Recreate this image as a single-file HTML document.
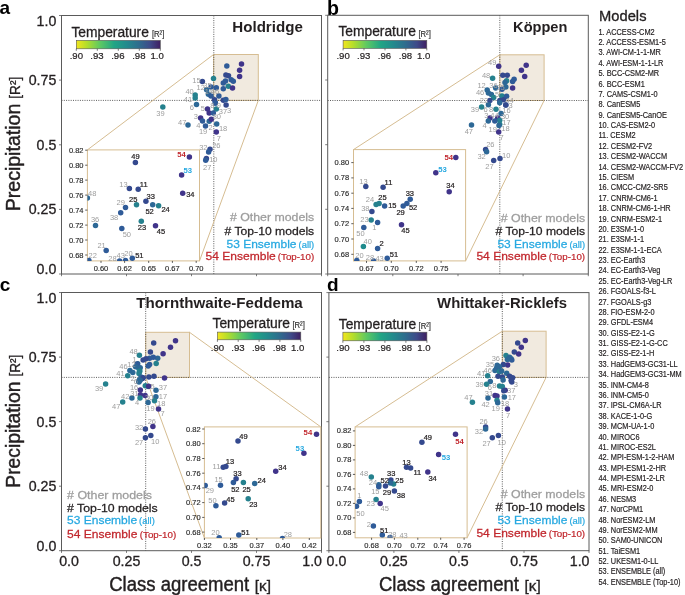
<!DOCTYPE html><html><head><meta charset="utf-8"><style>html,body{margin:0;padding:0;background:#fff;}svg{display:block;will-change:transform;} text{font-family:"Liberation Sans",sans-serif;}</style></head><body><svg width="685" height="595" viewBox="0 0 685 595" font-family="Liberation Sans, sans-serif"><rect width="685" height="595" fill="#fff"/><text x="-0.6" y="14.3" font-size="19" fill="#000" font-weight="bold">a</text>
<rect x="213.6" y="54.5" width="44.7" height="45.9" fill="#f1eadf" stroke="#d6bd92" stroke-width="1" />
<line x1="213.8" y1="15.5" x2="213.8" y2="274.0" stroke="#333" stroke-width="0.8" stroke-dasharray="1 1.3"/>
<line x1="61.5" y1="100.4" x2="321.5" y2="100.4" stroke="#333" stroke-width="0.8" stroke-dasharray="1 1.3"/>
<line x1="87.4" y1="149.9" x2="213.6" y2="54.5" stroke="#d6bd92" stroke-width="1" />
<line x1="199.5" y1="260.9" x2="258.3" y2="100.4" stroke="#d6bd92" stroke-width="1" />
<rect x="61.5" y="15.5" width="260.0" height="258.5" fill="none" stroke="#5a5a5a" stroke-width="1" />
<line x1="59.0" y1="274.0" x2="61.5" y2="274.0" stroke="#5a5a5a" stroke-width="0.8" />
<text x="56.3" y="274.0" font-size="14.2" fill="#231f20" text-anchor="end" stroke="#231f20" stroke-width="0.31">0.0</text>
<line x1="59.0" y1="209.4" x2="61.5" y2="209.4" stroke="#5a5a5a" stroke-width="0.8" />
<text x="56.3" y="214.4" font-size="14.2" fill="#231f20" text-anchor="end" stroke="#231f20" stroke-width="0.31">0.25</text>
<line x1="59.0" y1="144.8" x2="61.5" y2="144.8" stroke="#5a5a5a" stroke-width="0.8" />
<text x="56.3" y="149.8" font-size="14.2" fill="#231f20" text-anchor="end" stroke="#231f20" stroke-width="0.31">0.5</text>
<line x1="59.0" y1="80.1" x2="61.5" y2="80.1" stroke="#5a5a5a" stroke-width="0.8" />
<text x="56.3" y="85.1" font-size="14.2" fill="#231f20" text-anchor="end" stroke="#231f20" stroke-width="0.31">0.75</text>
<line x1="59.0" y1="15.5" x2="61.5" y2="15.5" stroke="#5a5a5a" stroke-width="0.8" />
<text x="56.3" y="25.8" font-size="14.2" fill="#231f20" text-anchor="end" stroke="#231f20" stroke-width="0.31">1.0</text>
<line x1="61.5" y1="274.0" x2="61.5" y2="276.2" stroke="#5a5a5a" stroke-width="0.8" />
<line x1="126.5" y1="274.0" x2="126.5" y2="276.2" stroke="#5a5a5a" stroke-width="0.8" />
<line x1="191.5" y1="274.0" x2="191.5" y2="276.2" stroke="#5a5a5a" stroke-width="0.8" />
<line x1="256.5" y1="274.0" x2="256.5" y2="276.2" stroke="#5a5a5a" stroke-width="0.8" />
<line x1="321.5" y1="274.0" x2="321.5" y2="276.2" stroke="#5a5a5a" stroke-width="0.8" />
<text x="232.3" y="31.8" font-size="15" fill="#231f20" font-weight="bold" textLength="70.5" lengthAdjust="spacingAndGlyphs">Holdridge</text>
<text x="71.4" y="36.9" font-size="13.8" fill="#231f20" stroke="#231f20" stroke-width="0.30">Temperature</text>
<text x="151.9" y="37.2" font-size="9.6" fill="#333" textLength="12.4" lengthAdjust="spacingAndGlyphs" stroke="#333" stroke-width="0.21">[R²]</text>
<defs><linearGradient id="vir76" x1="0" x2="1" y1="0" y2="0"><stop offset="0" stop-color="#f2e51d"/><stop offset="0.12" stop-color="#b5de2b"/><stop offset="0.28" stop-color="#5ec962"/><stop offset="0.45" stop-color="#21a585"/><stop offset="0.6" stop-color="#238a8d"/><stop offset="0.75" stop-color="#2f6b8e"/><stop offset="0.88" stop-color="#3e4a89"/><stop offset="1" stop-color="#3f1f62"/></linearGradient></defs>
<rect x="76.3" y="40.4" width="84.0" height="8.4" fill="url(#vir76)" stroke="#555" stroke-width="0.6" />
<line x1="76.3" y1="48.8" x2="76.3" y2="50.8" stroke="#444" stroke-width="0.7" />
<text x="76.3" y="58.6" font-size="9.6" fill="#231f20" text-anchor="middle" stroke="#231f20" stroke-width="0.21">.90</text>
<line x1="97.3" y1="48.8" x2="97.3" y2="50.8" stroke="#444" stroke-width="0.7" />
<text x="97.0" y="58.6" font-size="9.6" fill="#231f20" text-anchor="middle" stroke="#231f20" stroke-width="0.21">.93</text>
<line x1="118.3" y1="48.8" x2="118.3" y2="50.8" stroke="#444" stroke-width="0.7" />
<text x="117.8" y="58.6" font-size="9.6" fill="#231f20" text-anchor="middle" stroke="#231f20" stroke-width="0.21">.96</text>
<line x1="139.3" y1="48.8" x2="139.3" y2="50.8" stroke="#444" stroke-width="0.7" />
<text x="138.8" y="58.6" font-size="9.6" fill="#231f20" text-anchor="middle" stroke="#231f20" stroke-width="0.21">.98</text>
<line x1="160.3" y1="48.8" x2="160.3" y2="50.8" stroke="#444" stroke-width="0.7" />
<text x="157.2" y="58.6" font-size="9.6" fill="#231f20" text-anchor="middle" stroke="#231f20" stroke-width="0.21">1.0</text>
<text x="314.2" y="221.3" font-size="11.6" fill="#9d9d9d" text-anchor="end" textLength="84.3" lengthAdjust="spacingAndGlyphs" stroke="#9d9d9d" stroke-width="0.26"># Other models</text>
<text x="314.2" y="234.5" font-size="11.6" fill="#231f20" text-anchor="end" textLength="89.6" lengthAdjust="spacingAndGlyphs" stroke="#231f20" stroke-width="0.26"># Top-10 models</text>
<text x="314.2" y="247.9" font-size="9.2" fill="#27a9e1" text-anchor="end" textLength="15.7" lengthAdjust="spacingAndGlyphs" stroke="#27a9e1" stroke-width="0.20">(all)</text>
<text x="296.5" y="247.9" font-size="11.6" fill="#27a9e1" text-anchor="end" textLength="70.0" lengthAdjust="spacingAndGlyphs" stroke="#27a9e1" stroke-width="0.26">53 Ensemble</text>
<text x="314.2" y="260.1" font-size="9.2" fill="#c1272d" text-anchor="end" textLength="36.4" lengthAdjust="spacingAndGlyphs" stroke="#c1272d" stroke-width="0.20">(Top-10)</text>
<text x="275.8" y="260.1" font-size="11.6" fill="#c1272d" text-anchor="end" textLength="70.3" lengthAdjust="spacingAndGlyphs" stroke="#c1272d" stroke-width="0.26">54 Ensemble</text>
<g transform="translate(20.2,211.3) rotate(-90)"><text x="0" y="0" font-size="19.6" fill="#231f20" stroke="#231f20" stroke-width="0.43" textLength="107.6" lengthAdjust="spacingAndGlyphs">Precipitation</text><text x="112.6" y="0" font-size="14.5" fill="#231f20" stroke="#231f20" stroke-width="0.3" textLength="21.9" lengthAdjust="spacingAndGlyphs">[R²]</text></g>
<circle cx="226.8" cy="66.0" r="2.75" fill="#2f5b98"/>
<circle cx="241.5" cy="64.1" r="2.75" fill="#40348a"/>
<circle cx="239.6" cy="70.3" r="2.75" fill="#40348a"/>
<circle cx="239.6" cy="76.6" r="2.75" fill="#40348a"/>
<circle cx="225.9" cy="75.1" r="2.75" fill="#34498e"/>
<circle cx="228.5" cy="75.8" r="2.75" fill="#34498e"/>
<circle cx="223.3" cy="82.9" r="2.75" fill="#2f5b98"/>
<circle cx="225.5" cy="81.0" r="2.75" fill="#2f5b98"/>
<circle cx="231.2" cy="79.7" r="2.75" fill="#2f5b98"/>
<circle cx="233.3" cy="81.3" r="2.75" fill="#2f5b98"/>
<circle cx="228.3" cy="86.3" r="2.75" fill="#25818e"/>
<circle cx="232.5" cy="88.0" r="2.75" fill="#40348a"/>
<circle cx="223.3" cy="88.7" r="2.75" fill="#2f5b98"/>
<circle cx="213.5" cy="78.4" r="2.75" fill="#25818e"/>
<circle cx="202.4" cy="81.5" r="2.75" fill="#34498e"/>
<circle cx="211.0" cy="87.1" r="2.75" fill="#2f5b98"/>
<circle cx="216.3" cy="87.8" r="2.75" fill="#2f5b98"/>
<circle cx="206.6" cy="89.8" r="2.75" fill="#2d6896"/>
<circle cx="208.4" cy="94.2" r="2.75" fill="#2d6896"/>
<circle cx="211.0" cy="95.9" r="2.75" fill="#2f5b98"/>
<circle cx="218.9" cy="95.9" r="2.75" fill="#2f5b98"/>
<circle cx="195.2" cy="94.9" r="2.75" fill="#25818e"/>
<circle cx="195.2" cy="97.9" r="2.75" fill="#25818e"/>
<circle cx="196.5" cy="104.5" r="2.75" fill="#2d6896"/>
<circle cx="214.5" cy="99.8" r="2.75" fill="#34498e"/>
<circle cx="223.3" cy="100.3" r="2.75" fill="#34498e"/>
<circle cx="225.9" cy="99.4" r="2.75" fill="#2f5b98"/>
<circle cx="215.4" cy="102.9" r="2.75" fill="#2f5b98"/>
<circle cx="226.1" cy="105.0" r="2.75" fill="#34498e"/>
<circle cx="215.3" cy="103.0" r="2.75" fill="#2f5b98"/>
<circle cx="207.5" cy="109.1" r="2.75" fill="#40348a"/>
<circle cx="216.3" cy="109.1" r="2.75" fill="#25818e"/>
<circle cx="209.2" cy="113.1" r="2.75" fill="#40348a"/>
<circle cx="213.3" cy="113.1" r="2.75" fill="#2f5b98"/>
<circle cx="200.6" cy="117.9" r="2.75" fill="#40348a"/>
<circle cx="202.5" cy="121.0" r="2.75" fill="#2f5b98"/>
<circle cx="209.2" cy="121.2" r="2.75" fill="#2d6896"/>
<circle cx="211.3" cy="119.2" r="2.75" fill="#40348a"/>
<circle cx="216.7" cy="124.1" r="2.75" fill="#2d6896"/>
<circle cx="205.5" cy="125.9" r="2.75" fill="#2f5b98"/>
<circle cx="188.0" cy="124.9" r="2.75" fill="#2d6896"/>
<circle cx="216.3" cy="132.1" r="2.75" fill="#40348a"/>
<circle cx="162.8" cy="107.1" r="2.75" fill="#25818e"/>
<circle cx="210.0" cy="149.2" r="2.75" fill="#34498e"/>
<circle cx="208.6" cy="151.9" r="2.75" fill="#2f5b98"/>
<circle cx="206.4" cy="158.4" r="2.75" fill="#34498e"/>
<circle cx="205.7" cy="160.2" r="2.75" fill="#2f5b98"/>
<text x="196.4" y="82.5" font-size="7.5" fill="#9d9d9d" text-anchor="middle">15</text>
<text x="200.7" y="90.0" font-size="7.5" fill="#9d9d9d" text-anchor="middle">12</text>
<text x="207.5" y="88.0" font-size="7.5" fill="#9d9d9d" text-anchor="middle">35</text>
<text x="208.9" y="94.3" font-size="7.5" fill="#9d9d9d" text-anchor="middle">14</text>
<text x="215.0" y="94.3" font-size="7.5" fill="#9d9d9d" text-anchor="middle">46</text>
<text x="189.6" y="93.5" font-size="7.5" fill="#9d9d9d" text-anchor="middle">40</text>
<text x="187.9" y="102.3" font-size="7.5" fill="#9d9d9d" text-anchor="middle">41</text>
<text x="191.9" y="110.2" font-size="7.5" fill="#9d9d9d" text-anchor="middle">6</text>
<text x="202.9" y="111.1" font-size="7.5" fill="#9d9d9d" text-anchor="middle">5</text>
<text x="212.4" y="107.6" font-size="7.5" fill="#9d9d9d" text-anchor="middle">8</text>
<text x="218.9" y="107.8" font-size="7.5" fill="#9d9d9d" text-anchor="middle">9</text>
<text x="222.9" y="113.7" font-size="7.5" fill="#9d9d9d" text-anchor="middle">37</text>
<text x="229.0" y="112.9" font-size="7.5" fill="#9d9d9d" text-anchor="middle">3</text>
<text x="195.9" y="118.9" font-size="7.5" fill="#9d9d9d" text-anchor="middle">3</text>
<text x="216.8" y="118.9" font-size="7.5" fill="#9d9d9d" text-anchor="middle">30</text>
<text x="198.4" y="127.6" font-size="7.5" fill="#9d9d9d" text-anchor="middle">4</text>
<text x="210.5" y="129.5" font-size="7.5" fill="#9d9d9d" text-anchor="middle">2</text>
<text x="223.1" y="130.5" font-size="7.5" fill="#9d9d9d" text-anchor="middle">18</text>
<text x="182.2" y="125.3" font-size="7.5" fill="#9d9d9d" text-anchor="middle">47</text>
<text x="160.5" y="115.7" font-size="7.5" fill="#9d9d9d" text-anchor="middle">39</text>
<text x="203.1" y="133.5" font-size="7.5" fill="#9d9d9d" text-anchor="middle">19</text>
<text x="218.8" y="140.5" font-size="7.5" fill="#9d9d9d" text-anchor="middle">7</text>
<text x="203.3" y="149.7" font-size="7.5" fill="#9d9d9d" text-anchor="middle">32</text>
<text x="216.3" y="148.2" font-size="7.5" fill="#9d9d9d" text-anchor="middle">26</text>
<text x="213.3" y="161.9" font-size="7.5" fill="#9d9d9d" text-anchor="middle">10</text>
<text x="207.2" y="169.9" font-size="7.5" fill="#9d9d9d" text-anchor="middle">27</text>
<rect x="87.4" y="149.9" width="112.1" height="111.0" fill="#fff" stroke="#d6bd92" stroke-width="1" />
<line x1="85.2" y1="150.2" x2="87.4" y2="150.2" stroke="#333" stroke-width="0.8" />
<text x="83.5" y="152.7" font-size="7.2" fill="#2a2a2a" text-anchor="end" textLength="14.6" lengthAdjust="spacingAndGlyphs" stroke="#2a2a2a" stroke-width="0.15">0.82</text>
<line x1="85.2" y1="165.2" x2="87.4" y2="165.2" stroke="#333" stroke-width="0.8" />
<text x="83.5" y="167.7" font-size="7.2" fill="#2a2a2a" text-anchor="end" textLength="14.6" lengthAdjust="spacingAndGlyphs" stroke="#2a2a2a" stroke-width="0.15">0.80</text>
<line x1="85.2" y1="180.1" x2="87.4" y2="180.1" stroke="#333" stroke-width="0.8" />
<text x="83.5" y="182.6" font-size="7.2" fill="#2a2a2a" text-anchor="end" textLength="14.6" lengthAdjust="spacingAndGlyphs" stroke="#2a2a2a" stroke-width="0.15">0.78</text>
<line x1="85.2" y1="195.1" x2="87.4" y2="195.1" stroke="#333" stroke-width="0.8" />
<text x="83.5" y="197.6" font-size="7.2" fill="#2a2a2a" text-anchor="end" textLength="14.6" lengthAdjust="spacingAndGlyphs" stroke="#2a2a2a" stroke-width="0.15">0.76</text>
<line x1="85.2" y1="210.1" x2="87.4" y2="210.1" stroke="#333" stroke-width="0.8" />
<text x="83.5" y="212.6" font-size="7.2" fill="#2a2a2a" text-anchor="end" textLength="14.6" lengthAdjust="spacingAndGlyphs" stroke="#2a2a2a" stroke-width="0.15">0.74</text>
<line x1="85.2" y1="225.1" x2="87.4" y2="225.1" stroke="#333" stroke-width="0.8" />
<text x="83.5" y="227.6" font-size="7.2" fill="#2a2a2a" text-anchor="end" textLength="14.6" lengthAdjust="spacingAndGlyphs" stroke="#2a2a2a" stroke-width="0.15">0.72</text>
<line x1="85.2" y1="240.0" x2="87.4" y2="240.0" stroke="#333" stroke-width="0.8" />
<text x="83.5" y="242.5" font-size="7.2" fill="#2a2a2a" text-anchor="end" textLength="14.6" lengthAdjust="spacingAndGlyphs" stroke="#2a2a2a" stroke-width="0.15">0.70</text>
<line x1="85.2" y1="255.0" x2="87.4" y2="255.0" stroke="#333" stroke-width="0.8" />
<text x="83.5" y="257.5" font-size="7.2" fill="#2a2a2a" text-anchor="end" textLength="14.6" lengthAdjust="spacingAndGlyphs" stroke="#2a2a2a" stroke-width="0.15">0.68</text>
<line x1="101.0" y1="260.9" x2="101.0" y2="262.9" stroke="#333" stroke-width="0.8" />
<text x="101.0" y="270.6" font-size="7.2" fill="#2a2a2a" text-anchor="middle" textLength="14.6" lengthAdjust="spacingAndGlyphs" stroke="#2a2a2a" stroke-width="0.15">0.60</text>
<line x1="124.6" y1="260.9" x2="124.6" y2="262.9" stroke="#333" stroke-width="0.8" />
<text x="124.6" y="270.6" font-size="7.2" fill="#2a2a2a" text-anchor="middle" textLength="14.6" lengthAdjust="spacingAndGlyphs" stroke="#2a2a2a" stroke-width="0.15">0.62</text>
<line x1="148.7" y1="260.9" x2="148.7" y2="262.9" stroke="#333" stroke-width="0.8" />
<text x="148.7" y="270.6" font-size="7.2" fill="#2a2a2a" text-anchor="middle" textLength="14.6" lengthAdjust="spacingAndGlyphs" stroke="#2a2a2a" stroke-width="0.15">0.65</text>
<line x1="172.4" y1="260.9" x2="172.4" y2="262.9" stroke="#333" stroke-width="0.8" />
<text x="172.4" y="270.6" font-size="7.2" fill="#2a2a2a" text-anchor="middle" textLength="14.6" lengthAdjust="spacingAndGlyphs" stroke="#2a2a2a" stroke-width="0.15">0.67</text>
<line x1="196.2" y1="260.9" x2="196.2" y2="262.9" stroke="#333" stroke-width="0.8" />
<text x="196.2" y="270.6" font-size="7.2" fill="#2a2a2a" text-anchor="middle" textLength="14.6" lengthAdjust="spacingAndGlyphs" stroke="#2a2a2a" stroke-width="0.15">0.70</text>
<defs><clipPath id="clip1"><rect x="87.4" y="149.9" width="112.1" height="110.99999999999997"/></clipPath></defs><g clip-path="url(#clip1)">
<circle cx="135.4" cy="162.6" r="2.75" fill="#34498e"/>
<circle cx="189.4" cy="157.1" r="2.75" fill="#40348a"/>
<circle cx="181.6" cy="175.0" r="2.75" fill="#40348a"/>
<circle cx="182.7" cy="193.2" r="2.75" fill="#40348a"/>
<circle cx="129.4" cy="188.6" r="2.75" fill="#34498e"/>
<circle cx="138.2" cy="189.3" r="2.75" fill="#34498e"/>
<circle cx="87.4" cy="198.0" r="2.75" fill="#2d6896"/>
<circle cx="145.9" cy="201.3" r="2.75" fill="#34498e"/>
<circle cx="136.5" cy="204.8" r="2.75" fill="#25818e"/>
<circle cx="152.7" cy="204.8" r="2.75" fill="#2d6896"/>
<circle cx="158.6" cy="205.7" r="2.75" fill="#25818e"/>
<circle cx="125.5" cy="207.4" r="2.75" fill="#2f5b98"/>
<circle cx="120.7" cy="212.7" r="2.75" fill="#2f5b98"/>
<circle cx="95.5" cy="225.4" r="2.75" fill="#2d6896"/>
<circle cx="141.3" cy="221.2" r="2.75" fill="#25818e"/>
<circle cx="121.8" cy="228.5" r="2.75" fill="#2f5b98"/>
<circle cx="155.5" cy="225.8" r="2.75" fill="#40348a"/>
<circle cx="106.2" cy="250.6" r="2.75" fill="#2f5b98"/>
<circle cx="88.9" cy="260.4" r="2.75" fill="#2f5b98"/>
<circle cx="125.5" cy="260.4" r="2.75" fill="#2f5b98"/>
<circle cx="132.3" cy="258.2" r="2.75" fill="#2f5b98"/>
<circle cx="119.6" cy="260.9" r="2.75" fill="#2f5b98"/>
</g>
<text x="135.4" y="159.1" font-size="7.5" fill="#231f20" text-anchor="middle" stroke="#231f20" stroke-width="0.22">49</text>
<text x="181.6" y="156.9" font-size="7.7" fill="#c1272d" text-anchor="middle" font-weight="bold">54</text>
<text x="187.7" y="172.7" font-size="7.7" fill="#27a9e1" text-anchor="middle" font-weight="bold">53</text>
<text x="190.3" y="197.4" font-size="7.5" fill="#231f20" text-anchor="middle" stroke="#231f20" stroke-width="0.22">34</text>
<text x="123.5" y="186.5" font-size="7.5" fill="#9d9d9d" text-anchor="middle">13</text>
<text x="143.7" y="186.5" font-size="7.5" fill="#231f20" text-anchor="middle" stroke="#231f20" stroke-width="0.22">11</text>
<text x="92.2" y="196.3" font-size="7.5" fill="#9d9d9d" text-anchor="middle">48</text>
<text x="150.7" y="198.5" font-size="7.5" fill="#231f20" text-anchor="middle" stroke="#231f20" stroke-width="0.22">33</text>
<text x="133.2" y="202.3" font-size="7.5" fill="#231f20" text-anchor="middle" stroke="#231f20" stroke-width="0.22">25</text>
<text x="149.6" y="213.9" font-size="7.5" fill="#231f20" text-anchor="middle" stroke="#231f20" stroke-width="0.22">52</text>
<text x="165.6" y="212.3" font-size="7.5" fill="#231f20" text-anchor="middle" stroke="#231f20" stroke-width="0.22">24</text>
<text x="120.7" y="205.1" font-size="7.5" fill="#9d9d9d" text-anchor="middle">29</text>
<text x="114.1" y="219.8" font-size="7.5" fill="#9d9d9d" text-anchor="middle">38</text>
<text x="95.1" y="221.5" font-size="7.5" fill="#9d9d9d" text-anchor="middle">36</text>
<text x="141.9" y="230.3" font-size="7.5" fill="#231f20" text-anchor="middle" stroke="#231f20" stroke-width="0.22">23</text>
<text x="126.8" y="237.3" font-size="7.5" fill="#9d9d9d" text-anchor="middle">50</text>
<text x="161.0" y="234.2" font-size="7.5" fill="#231f20" text-anchor="middle" stroke="#231f20" stroke-width="0.22">45</text>
<text x="101.6" y="248.2" font-size="7.5" fill="#9d9d9d" text-anchor="middle">21</text>
<text x="92.7" y="258.3" font-size="7.5" fill="#9d9d9d" text-anchor="middle">22</text>
<text x="112.4" y="261.4" font-size="7.5" fill="#9d9d9d" text-anchor="middle">28</text>
<text x="120.7" y="258.3" font-size="7.5" fill="#9d9d9d" text-anchor="middle">43</text>
<text x="128.4" y="256.1" font-size="7.5" fill="#9d9d9d" text-anchor="middle">20</text>
<text x="139.3" y="258.3" font-size="7.5" fill="#231f20" text-anchor="middle" stroke="#231f20" stroke-width="0.22">51</text>
<text x="326.9" y="14.5" font-size="19.6" fill="#000" font-weight="bold">b</text>
<rect x="499.8" y="54.8" width="44.3" height="45.7" fill="#f1eadf" stroke="#d6bd92" stroke-width="1" />
<line x1="499.8" y1="15.3" x2="499.8" y2="274.0" stroke="#333" stroke-width="0.8" stroke-dasharray="1 1.3"/>
<line x1="327.7" y1="100.5" x2="588.3" y2="100.5" stroke="#333" stroke-width="0.8" stroke-dasharray="1 1.3"/>
<line x1="353.5" y1="149.6" x2="499.8" y2="54.8" stroke="#d6bd92" stroke-width="1" />
<line x1="465.6" y1="260.9" x2="544.1" y2="100.5" stroke="#d6bd92" stroke-width="1" />
<rect x="327.7" y="15.3" width="260.6" height="258.7" fill="none" stroke="#5a5a5a" stroke-width="1" />
<line x1="325.2" y1="274.0" x2="327.7" y2="274.0" stroke="#5a5a5a" stroke-width="0.8" />
<line x1="325.2" y1="209.3" x2="327.7" y2="209.3" stroke="#5a5a5a" stroke-width="0.8" />
<line x1="325.2" y1="144.7" x2="327.7" y2="144.7" stroke="#5a5a5a" stroke-width="0.8" />
<line x1="325.2" y1="80.0" x2="327.7" y2="80.0" stroke="#5a5a5a" stroke-width="0.8" />
<line x1="325.2" y1="15.3" x2="327.7" y2="15.3" stroke="#5a5a5a" stroke-width="0.8" />
<line x1="327.7" y1="274.0" x2="327.7" y2="276.2" stroke="#5a5a5a" stroke-width="0.8" />
<line x1="392.8" y1="274.0" x2="392.8" y2="276.2" stroke="#5a5a5a" stroke-width="0.8" />
<line x1="458.0" y1="274.0" x2="458.0" y2="276.2" stroke="#5a5a5a" stroke-width="0.8" />
<line x1="523.1" y1="274.0" x2="523.1" y2="276.2" stroke="#5a5a5a" stroke-width="0.8" />
<line x1="588.3" y1="274.0" x2="588.3" y2="276.2" stroke="#5a5a5a" stroke-width="0.8" />
<text x="513.1" y="32.4" font-size="15" fill="#231f20" font-weight="bold" textLength="54.3" lengthAdjust="spacingAndGlyphs">Köppen</text>
<text x="338.4" y="36.4" font-size="13.8" fill="#231f20" stroke="#231f20" stroke-width="0.30">Temperature</text>
<text x="418.4" y="36.7" font-size="9.6" fill="#333" textLength="12.4" lengthAdjust="spacingAndGlyphs" stroke="#333" stroke-width="0.21">[R²]</text>
<defs><linearGradient id="vir343" x1="0" x2="1" y1="0" y2="0"><stop offset="0" stop-color="#f2e51d"/><stop offset="0.12" stop-color="#b5de2b"/><stop offset="0.28" stop-color="#5ec962"/><stop offset="0.45" stop-color="#21a585"/><stop offset="0.6" stop-color="#238a8d"/><stop offset="0.75" stop-color="#2f6b8e"/><stop offset="0.88" stop-color="#3e4a89"/><stop offset="1" stop-color="#3f1f62"/></linearGradient></defs>
<rect x="343.1" y="40.4" width="83.7" height="8.0" fill="url(#vir343)" stroke="#555" stroke-width="0.6" />
<line x1="343.1" y1="48.4" x2="343.1" y2="50.4" stroke="#444" stroke-width="0.7" />
<text x="343.1" y="59.0" font-size="9.6" fill="#231f20" text-anchor="middle" stroke="#231f20" stroke-width="0.21">.90</text>
<line x1="364.0" y1="48.4" x2="364.0" y2="50.4" stroke="#444" stroke-width="0.7" />
<text x="363.7" y="59.0" font-size="9.6" fill="#231f20" text-anchor="middle" stroke="#231f20" stroke-width="0.21">.93</text>
<line x1="385.0" y1="48.4" x2="385.0" y2="50.4" stroke="#444" stroke-width="0.7" />
<text x="384.4" y="59.0" font-size="9.6" fill="#231f20" text-anchor="middle" stroke="#231f20" stroke-width="0.21">.96</text>
<line x1="405.9" y1="48.4" x2="405.9" y2="50.4" stroke="#444" stroke-width="0.7" />
<text x="405.4" y="59.0" font-size="9.6" fill="#231f20" text-anchor="middle" stroke="#231f20" stroke-width="0.21">.98</text>
<line x1="426.8" y1="48.4" x2="426.8" y2="50.4" stroke="#444" stroke-width="0.7" />
<text x="423.7" y="59.0" font-size="9.6" fill="#231f20" text-anchor="middle" stroke="#231f20" stroke-width="0.21">1.0</text>
<text x="585.1" y="221.7" font-size="11.6" fill="#9d9d9d" text-anchor="end" textLength="84.3" lengthAdjust="spacingAndGlyphs" stroke="#9d9d9d" stroke-width="0.26"># Other models</text>
<text x="585.1" y="234.5" font-size="11.6" fill="#231f20" text-anchor="end" textLength="89.6" lengthAdjust="spacingAndGlyphs" stroke="#231f20" stroke-width="0.26"># Top-10 models</text>
<text x="585.1" y="247.9" font-size="9.2" fill="#27a9e1" text-anchor="end" textLength="15.7" lengthAdjust="spacingAndGlyphs" stroke="#27a9e1" stroke-width="0.20">(all)</text>
<text x="567.4" y="247.9" font-size="11.6" fill="#27a9e1" text-anchor="end" textLength="70.0" lengthAdjust="spacingAndGlyphs" stroke="#27a9e1" stroke-width="0.26">53 Ensemble</text>
<text x="585.1" y="260.1" font-size="9.2" fill="#c1272d" text-anchor="end" textLength="36.4" lengthAdjust="spacingAndGlyphs" stroke="#c1272d" stroke-width="0.20">(Top-10)</text>
<text x="546.7" y="260.1" font-size="11.6" fill="#c1272d" text-anchor="end" textLength="70.3" lengthAdjust="spacingAndGlyphs" stroke="#c1272d" stroke-width="0.26">54 Ensemble</text>
<circle cx="498.7" cy="66.2" r="2.75" fill="#40348a"/>
<circle cx="526.2" cy="65.3" r="2.75" fill="#40348a"/>
<circle cx="521.4" cy="70.3" r="2.75" fill="#40348a"/>
<circle cx="524.7" cy="76.6" r="2.75" fill="#40348a"/>
<circle cx="502.8" cy="75.2" r="2.75" fill="#34498e"/>
<circle cx="507.3" cy="75.2" r="2.75" fill="#34498e"/>
<circle cx="492.6" cy="78.3" r="2.75" fill="#25818e"/>
<circle cx="506.6" cy="80.8" r="2.75" fill="#25818e"/>
<circle cx="505.0" cy="82.4" r="2.75" fill="#2d6896"/>
<circle cx="514.1" cy="79.3" r="2.75" fill="#2f5b98"/>
<circle cx="512.6" cy="81.6" r="2.75" fill="#2f5b98"/>
<circle cx="512.6" cy="88.1" r="2.75" fill="#40348a"/>
<circle cx="495.7" cy="88.1" r="2.75" fill="#2d6896"/>
<circle cx="502.0" cy="89.2" r="2.75" fill="#2f5b98"/>
<circle cx="505.8" cy="86.9" r="2.75" fill="#2d6896"/>
<circle cx="487.2" cy="89.9" r="2.75" fill="#2d6896"/>
<circle cx="488.4" cy="93.0" r="2.75" fill="#2d6896"/>
<circle cx="491.4" cy="94.5" r="2.75" fill="#2d6896"/>
<circle cx="493.7" cy="97.5" r="2.75" fill="#25818e"/>
<circle cx="502.0" cy="96.0" r="2.75" fill="#25818e"/>
<circle cx="506.6" cy="96.3" r="2.75" fill="#2f5b98"/>
<circle cx="499.8" cy="100.5" r="2.75" fill="#34498e"/>
<circle cx="503.5" cy="99.8" r="2.75" fill="#34498e"/>
<circle cx="505.8" cy="105.0" r="2.75" fill="#2f5b98"/>
<circle cx="489.9" cy="100.5" r="2.75" fill="#34498e"/>
<circle cx="488.4" cy="104.7" r="2.75" fill="#2d6896"/>
<circle cx="481.6" cy="107.0" r="2.75" fill="#25818e"/>
<circle cx="496.0" cy="109.3" r="2.75" fill="#25818e"/>
<circle cx="499.7" cy="102.7" r="2.75" fill="#2d6896"/>
<circle cx="505.8" cy="105.1" r="2.75" fill="#34498e"/>
<circle cx="501.1" cy="113.4" r="2.75" fill="#2d6896"/>
<circle cx="490.0" cy="118.1" r="2.75" fill="#40348a"/>
<circle cx="497.7" cy="118.1" r="2.75" fill="#40348a"/>
<circle cx="499.7" cy="120.2" r="2.75" fill="#25818e"/>
<circle cx="488.3" cy="121.1" r="2.75" fill="#2d6896"/>
<circle cx="494.8" cy="121.1" r="2.75" fill="#2f5b98"/>
<circle cx="499.7" cy="124.2" r="2.75" fill="#25818e"/>
<circle cx="499.0" cy="125.5" r="2.75" fill="#2d6896"/>
<circle cx="471.5" cy="125.1" r="2.75" fill="#2d6896"/>
<circle cx="498.7" cy="132.0" r="2.75" fill="#40348a"/>
<circle cx="485.6" cy="149.5" r="2.75" fill="#34498e"/>
<circle cx="486.6" cy="151.7" r="2.75" fill="#2d6896"/>
<circle cx="493.7" cy="160.5" r="2.75" fill="#34498e"/>
<circle cx="500.0" cy="158.5" r="2.75" fill="#34498e"/>
<text x="492.2" y="65.4" font-size="7.5" fill="#9d9d9d" text-anchor="middle">49</text>
<text x="486.1" y="78.3" font-size="7.5" fill="#9d9d9d" text-anchor="middle">48</text>
<text x="481.6" y="88.1" font-size="7.5" fill="#9d9d9d" text-anchor="middle">12</text>
<text x="480.1" y="94.9" font-size="7.5" fill="#9d9d9d" text-anchor="middle">46</text>
<text x="493.5" y="88.2" font-size="7.5" fill="#9d9d9d" text-anchor="middle">36</text>
<text x="500.5" y="89.5" font-size="7.5" fill="#9d9d9d" text-anchor="middle">35</text>
<text x="483.9" y="102.5" font-size="7.5" fill="#9d9d9d" text-anchor="middle">22</text>
<text x="474.9" y="112.1" font-size="7.5" fill="#9d9d9d" text-anchor="middle">39</text>
<text x="485.6" y="112.1" font-size="7.5" fill="#9d9d9d" text-anchor="middle">6</text>
<text x="491.0" y="112.1" font-size="7.5" fill="#9d9d9d" text-anchor="middle">8</text>
<text x="510.5" y="107.8" font-size="7.5" fill="#9d9d9d" text-anchor="middle">3</text>
<text x="506.5" y="113.2" font-size="7.5" fill="#9d9d9d" text-anchor="middle">16</text>
<text x="494.4" y="117.5" font-size="7.5" fill="#9d9d9d" text-anchor="middle">44</text>
<text x="486.3" y="118.2" font-size="7.5" fill="#9d9d9d" text-anchor="middle">3</text>
<text x="505.1" y="119.1" font-size="7.5" fill="#9d9d9d" text-anchor="middle">30</text>
<text x="506.5" y="125.3" font-size="7.5" fill="#9d9d9d" text-anchor="middle">17</text>
<text x="484.7" y="128.0" font-size="7.5" fill="#9d9d9d" text-anchor="middle">4</text>
<text x="492.7" y="132.0" font-size="7.5" fill="#9d9d9d" text-anchor="middle">19</text>
<text x="505.4" y="130.9" font-size="7.5" fill="#9d9d9d" text-anchor="middle">18</text>
<text x="468.8" y="133.9" font-size="7.5" fill="#9d9d9d" text-anchor="middle">47</text>
<text x="501.7" y="140.3" font-size="7.5" fill="#9d9d9d" text-anchor="middle">7</text>
<text x="490.3" y="146.8" font-size="7.5" fill="#9d9d9d" text-anchor="middle">26</text>
<text x="481.6" y="159.4" font-size="7.5" fill="#9d9d9d" text-anchor="middle">32</text>
<text x="506.2" y="157.5" font-size="7.5" fill="#9d9d9d" text-anchor="middle">10</text>
<text x="489.4" y="168.8" font-size="7.5" fill="#9d9d9d" text-anchor="middle">27</text>
<text x="509.5" y="102.9" font-size="7.5" fill="#9d9d9d" text-anchor="middle">44</text>
<text x="497.0" y="96.7" font-size="7.5" fill="#9d9d9d" text-anchor="middle">5</text>
<rect x="353.5" y="149.6" width="112.1" height="111.3" fill="#fff" stroke="#d6bd92" stroke-width="1" />
<line x1="351.3" y1="162.6" x2="353.5" y2="162.6" stroke="#333" stroke-width="0.8" />
<text x="349.2" y="165.1" font-size="7.2" fill="#2a2a2a" text-anchor="end" textLength="14.6" lengthAdjust="spacingAndGlyphs" stroke="#2a2a2a" stroke-width="0.15">0.80</text>
<line x1="351.3" y1="177.9" x2="353.5" y2="177.9" stroke="#333" stroke-width="0.8" />
<text x="349.2" y="180.4" font-size="7.2" fill="#2a2a2a" text-anchor="end" textLength="14.6" lengthAdjust="spacingAndGlyphs" stroke="#2a2a2a" stroke-width="0.15">0.78</text>
<line x1="351.3" y1="193.2" x2="353.5" y2="193.2" stroke="#333" stroke-width="0.8" />
<text x="349.2" y="195.7" font-size="7.2" fill="#2a2a2a" text-anchor="end" textLength="14.6" lengthAdjust="spacingAndGlyphs" stroke="#2a2a2a" stroke-width="0.15">0.76</text>
<line x1="351.3" y1="208.4" x2="353.5" y2="208.4" stroke="#333" stroke-width="0.8" />
<text x="349.2" y="210.9" font-size="7.2" fill="#2a2a2a" text-anchor="end" textLength="14.6" lengthAdjust="spacingAndGlyphs" stroke="#2a2a2a" stroke-width="0.15">0.74</text>
<line x1="351.3" y1="223.7" x2="353.5" y2="223.7" stroke="#333" stroke-width="0.8" />
<text x="349.2" y="226.2" font-size="7.2" fill="#2a2a2a" text-anchor="end" textLength="14.6" lengthAdjust="spacingAndGlyphs" stroke="#2a2a2a" stroke-width="0.15">0.72</text>
<line x1="351.3" y1="239.0" x2="353.5" y2="239.0" stroke="#333" stroke-width="0.8" />
<text x="349.2" y="241.5" font-size="7.2" fill="#2a2a2a" text-anchor="end" textLength="14.6" lengthAdjust="spacingAndGlyphs" stroke="#2a2a2a" stroke-width="0.15">0.70</text>
<line x1="351.3" y1="254.3" x2="353.5" y2="254.3" stroke="#333" stroke-width="0.8" />
<text x="349.2" y="256.8" font-size="7.2" fill="#2a2a2a" text-anchor="end" textLength="14.6" lengthAdjust="spacingAndGlyphs" stroke="#2a2a2a" stroke-width="0.15">0.68</text>
<line x1="366.5" y1="260.9" x2="366.5" y2="262.9" stroke="#333" stroke-width="0.8" />
<text x="366.5" y="271.0" font-size="7.2" fill="#2a2a2a" text-anchor="middle" textLength="14.6" lengthAdjust="spacingAndGlyphs" stroke="#2a2a2a" stroke-width="0.15">0.67</text>
<line x1="391.3" y1="260.9" x2="391.3" y2="262.9" stroke="#333" stroke-width="0.8" />
<text x="391.3" y="271.0" font-size="7.2" fill="#2a2a2a" text-anchor="middle" textLength="14.6" lengthAdjust="spacingAndGlyphs" stroke="#2a2a2a" stroke-width="0.15">0.70</text>
<line x1="416.3" y1="260.9" x2="416.3" y2="262.9" stroke="#333" stroke-width="0.8" />
<text x="416.3" y="271.0" font-size="7.2" fill="#2a2a2a" text-anchor="middle" textLength="14.6" lengthAdjust="spacingAndGlyphs" stroke="#2a2a2a" stroke-width="0.15">0.72</text>
<line x1="441.1" y1="260.9" x2="441.1" y2="262.9" stroke="#333" stroke-width="0.8" />
<text x="441.1" y="271.0" font-size="7.2" fill="#2a2a2a" text-anchor="middle" textLength="14.6" lengthAdjust="spacingAndGlyphs" stroke="#2a2a2a" stroke-width="0.15">0.75</text>
<defs><clipPath id="clip2"><rect x="353.5" y="149.6" width="112.10000000000002" height="111.29999999999998"/></clipPath></defs><g clip-path="url(#clip2)">
<circle cx="455.8" cy="157.5" r="2.75" fill="#40348a"/>
<circle cx="435.8" cy="172.8" r="2.75" fill="#40348a"/>
<circle cx="449.2" cy="191.7" r="2.75" fill="#40348a"/>
<circle cx="365.8" cy="186.6" r="2.75" fill="#34498e"/>
<circle cx="383.1" cy="187.3" r="2.75" fill="#34498e"/>
<circle cx="410.2" cy="199.3" r="2.75" fill="#2f5b98"/>
<circle cx="376.1" cy="204.4" r="2.75" fill="#25818e"/>
<circle cx="379.1" cy="203.5" r="2.75" fill="#25818e"/>
<circle cx="384.6" cy="206.1" r="2.75" fill="#2f5b98"/>
<circle cx="403.2" cy="206.1" r="2.75" fill="#2f5b98"/>
<circle cx="406.9" cy="203.5" r="2.75" fill="#2f5b98"/>
<circle cx="371.9" cy="211.4" r="2.75" fill="#34498e"/>
<circle cx="371.2" cy="220.1" r="2.75" fill="#25818e"/>
<circle cx="377.6" cy="222.5" r="2.75" fill="#2f5b98"/>
<circle cx="363.8" cy="227.6" r="2.75" fill="#2f5b98"/>
<circle cx="401.5" cy="224.7" r="2.75" fill="#40348a"/>
<circle cx="363.4" cy="246.4" r="2.75" fill="#1f8a8c"/>
<circle cx="377.6" cy="248.4" r="2.75" fill="#2f5b98"/>
<circle cx="387.2" cy="258.2" r="2.75" fill="#2f5b98"/>
<circle cx="356.8" cy="260.4" r="2.75" fill="#2f5b98"/>
<circle cx="373.6" cy="260.9" r="2.75" fill="#2f5b98"/>
</g>
<text x="448.7" y="160.2" font-size="7.7" fill="#c1272d" text-anchor="middle" font-weight="bold">54</text>
<text x="442.6" y="172.3" font-size="7.7" fill="#27a9e1" text-anchor="middle" font-weight="bold">53</text>
<text x="450.5" y="188.2" font-size="7.5" fill="#231f20" text-anchor="middle" stroke="#231f20" stroke-width="0.22">34</text>
<text x="363.4" y="183.6" font-size="7.5" fill="#9d9d9d" text-anchor="middle">13</text>
<text x="388.5" y="185.4" font-size="7.5" fill="#231f20" text-anchor="middle" stroke="#231f20" stroke-width="0.22">11</text>
<text x="409.8" y="196.3" font-size="7.5" fill="#231f20" text-anchor="middle" stroke="#231f20" stroke-width="0.22">33</text>
<text x="382.4" y="200.3" font-size="7.5" fill="#231f20" text-anchor="middle" stroke="#231f20" stroke-width="0.22">25</text>
<text x="369.9" y="202.3" font-size="7.5" fill="#9d9d9d" text-anchor="middle">24</text>
<text x="392.3" y="207.5" font-size="7.5" fill="#231f20" text-anchor="middle" stroke="#231f20" stroke-width="0.22">15</text>
<text x="413.1" y="210.1" font-size="7.5" fill="#231f20" text-anchor="middle" stroke="#231f20" stroke-width="0.22">52</text>
<text x="400.6" y="215.0" font-size="7.5" fill="#231f20" text-anchor="middle" stroke="#231f20" stroke-width="0.22">29</text>
<text x="365.3" y="211.2" font-size="7.5" fill="#9d9d9d" text-anchor="middle">38</text>
<text x="364.4" y="221.5" font-size="7.5" fill="#9d9d9d" text-anchor="middle">23</text>
<text x="374.3" y="230.3" font-size="7.5" fill="#9d9d9d" text-anchor="middle">1</text>
<text x="360.5" y="236.4" font-size="7.5" fill="#9d9d9d" text-anchor="middle">50</text>
<text x="405.4" y="232.5" font-size="7.5" fill="#231f20" text-anchor="middle" stroke="#231f20" stroke-width="0.22">45</text>
<text x="367.7" y="243.9" font-size="7.5" fill="#9d9d9d" text-anchor="middle">40</text>
<text x="381.7" y="246.1" font-size="7.5" fill="#231f20" text-anchor="middle" stroke="#231f20" stroke-width="0.22">2</text>
<text x="394.0" y="257.0" font-size="7.5" fill="#231f20" text-anchor="middle" stroke="#231f20" stroke-width="0.22">51</text>
<text x="359.4" y="257.7" font-size="7.5" fill="#9d9d9d" text-anchor="middle">20</text>
<text x="369.9" y="259.8" font-size="7.5" fill="#9d9d9d" text-anchor="middle">28</text>
<text x="379.6" y="260.9" font-size="7.5" fill="#9d9d9d" text-anchor="middle">43</text>
<text x="-0.2" y="290.7" font-size="19" fill="#000" font-weight="bold">c</text>
<rect x="145.7" y="332.3" width="43.8" height="45.1" fill="#f1eadf" stroke="#d6bd92" stroke-width="1" />
<line x1="145.7" y1="292.5" x2="145.7" y2="550.7" stroke="#333" stroke-width="0.8" stroke-dasharray="1 1.3"/>
<line x1="61.5" y1="377.4" x2="321.5" y2="377.4" stroke="#333" stroke-width="0.8" stroke-dasharray="1 1.3"/>
<line x1="189.5" y1="332.3" x2="320.8" y2="426.9" stroke="#d6bd92" stroke-width="1" />
<line x1="145.7" y1="377.4" x2="204.4" y2="538.0" stroke="#d6bd92" stroke-width="1" />
<rect x="61.5" y="292.5" width="260.0" height="258.2" fill="none" stroke="#5a5a5a" stroke-width="1" />
<line x1="59.0" y1="550.7" x2="61.5" y2="550.7" stroke="#5a5a5a" stroke-width="0.8" />
<text x="56.3" y="550.7" font-size="14.2" fill="#231f20" text-anchor="end" stroke="#231f20" stroke-width="0.31">0.0</text>
<line x1="59.0" y1="486.2" x2="61.5" y2="486.2" stroke="#5a5a5a" stroke-width="0.8" />
<text x="56.3" y="491.2" font-size="14.2" fill="#231f20" text-anchor="end" stroke="#231f20" stroke-width="0.31">0.25</text>
<line x1="59.0" y1="421.6" x2="61.5" y2="421.6" stroke="#5a5a5a" stroke-width="0.8" />
<text x="56.3" y="426.6" font-size="14.2" fill="#231f20" text-anchor="end" stroke="#231f20" stroke-width="0.31">0.5</text>
<line x1="59.0" y1="357.1" x2="61.5" y2="357.1" stroke="#5a5a5a" stroke-width="0.8" />
<text x="56.3" y="362.1" font-size="14.2" fill="#231f20" text-anchor="end" stroke="#231f20" stroke-width="0.31">0.75</text>
<line x1="59.0" y1="292.5" x2="61.5" y2="292.5" stroke="#5a5a5a" stroke-width="0.8" />
<text x="56.3" y="302.8" font-size="14.2" fill="#231f20" text-anchor="end" stroke="#231f20" stroke-width="0.31">1.0</text>
<line x1="61.5" y1="550.7" x2="61.5" y2="552.9" stroke="#5a5a5a" stroke-width="0.8" />
<text x="59.2" y="565.9" font-size="14.2" fill="#231f20" stroke="#231f20" stroke-width="0.31">0.0</text>
<line x1="126.5" y1="550.7" x2="126.5" y2="552.9" stroke="#5a5a5a" stroke-width="0.8" />
<text x="126.5" y="565.9" font-size="14.2" fill="#231f20" text-anchor="middle" stroke="#231f20" stroke-width="0.31">0.25</text>
<line x1="191.5" y1="550.7" x2="191.5" y2="552.9" stroke="#5a5a5a" stroke-width="0.8" />
<text x="191.5" y="565.9" font-size="14.2" fill="#231f20" text-anchor="middle" stroke="#231f20" stroke-width="0.31">0.5</text>
<line x1="256.5" y1="550.7" x2="256.5" y2="552.9" stroke="#5a5a5a" stroke-width="0.8" />
<text x="256.5" y="565.9" font-size="14.2" fill="#231f20" text-anchor="middle" stroke="#231f20" stroke-width="0.31">0.75</text>
<line x1="321.5" y1="550.7" x2="321.5" y2="552.9" stroke="#5a5a5a" stroke-width="0.8" />
<text x="322.0" y="565.9" font-size="14.2" fill="#231f20" text-anchor="end" stroke="#231f20" stroke-width="0.31">1.0</text>
<text x="136.3" y="307.9" font-size="15" fill="#231f20" font-weight="bold" textLength="166.5" lengthAdjust="spacingAndGlyphs">Thornthwaite-Feddema</text>
<text x="212.5" y="327.9" font-size="13.8" fill="#231f20" stroke="#231f20" stroke-width="0.30">Temperature</text>
<text x="292.4" y="328.2" font-size="9.6" fill="#333" textLength="12.4" lengthAdjust="spacingAndGlyphs" stroke="#333" stroke-width="0.21">[R²]</text>
<defs><linearGradient id="vir217" x1="0" x2="1" y1="0" y2="0"><stop offset="0" stop-color="#f2e51d"/><stop offset="0.12" stop-color="#b5de2b"/><stop offset="0.28" stop-color="#5ec962"/><stop offset="0.45" stop-color="#21a585"/><stop offset="0.6" stop-color="#238a8d"/><stop offset="0.75" stop-color="#2f6b8e"/><stop offset="0.88" stop-color="#3e4a89"/><stop offset="1" stop-color="#3f1f62"/></linearGradient></defs>
<rect x="217.4" y="332.1" width="83.4" height="7.7" fill="url(#vir217)" stroke="#555" stroke-width="0.6" />
<line x1="217.4" y1="339.8" x2="217.4" y2="341.8" stroke="#444" stroke-width="0.7" />
<text x="217.4" y="350.6" font-size="9.6" fill="#231f20" text-anchor="middle" stroke="#231f20" stroke-width="0.21">.90</text>
<line x1="238.2" y1="339.8" x2="238.2" y2="341.8" stroke="#444" stroke-width="0.7" />
<text x="237.9" y="350.6" font-size="9.6" fill="#231f20" text-anchor="middle" stroke="#231f20" stroke-width="0.21">.93</text>
<line x1="259.1" y1="339.8" x2="259.1" y2="341.8" stroke="#444" stroke-width="0.7" />
<text x="258.6" y="350.6" font-size="9.6" fill="#231f20" text-anchor="middle" stroke="#231f20" stroke-width="0.21">.96</text>
<line x1="279.9" y1="339.8" x2="279.9" y2="341.8" stroke="#444" stroke-width="0.7" />
<text x="279.4" y="350.6" font-size="9.6" fill="#231f20" text-anchor="middle" stroke="#231f20" stroke-width="0.21">.98</text>
<line x1="300.8" y1="339.8" x2="300.8" y2="341.8" stroke="#444" stroke-width="0.7" />
<text x="297.7" y="350.6" font-size="9.6" fill="#231f20" text-anchor="middle" stroke="#231f20" stroke-width="0.21">1.0</text>
<text x="67.1" y="498.6" font-size="11.6" fill="#9d9d9d" textLength="84.9" lengthAdjust="spacingAndGlyphs" stroke="#9d9d9d" stroke-width="0.26"># Other models</text>
<text x="67.1" y="511.6" font-size="11.6" fill="#231f20" textLength="90.6" lengthAdjust="spacingAndGlyphs" stroke="#231f20" stroke-width="0.26"># Top-10 models</text>
<text x="67.1" y="524.1" font-size="11.6" fill="#27a9e1" textLength="70.0" lengthAdjust="spacingAndGlyphs" stroke="#27a9e1" stroke-width="0.26">53 Ensemble</text>
<text x="139.1" y="524.1" font-size="9.2" fill="#27a9e1" textLength="15.7" lengthAdjust="spacingAndGlyphs" stroke="#27a9e1" stroke-width="0.20">(all)</text>
<text x="67.1" y="537.6" font-size="11.6" fill="#c1272d" textLength="70.3" lengthAdjust="spacingAndGlyphs" stroke="#c1272d" stroke-width="0.26">54 Ensemble</text>
<text x="139.8" y="537.6" font-size="9.2" fill="#c1272d" textLength="36.4" lengthAdjust="spacingAndGlyphs" stroke="#c1272d" stroke-width="0.20">(Top-10)</text>
<g transform="translate(20.2,487.7) rotate(-90)"><text x="0" y="0" font-size="19.6" fill="#231f20" stroke="#231f20" stroke-width="0.43" textLength="106.1" lengthAdjust="spacingAndGlyphs">Precipitation</text><text x="111.1" y="0" font-size="14.5" fill="#231f20" stroke="#231f20" stroke-width="0.3" textLength="21.9" lengthAdjust="spacingAndGlyphs">[R²]</text></g>
<text x="109.2" y="590.7" font-size="19.6" fill="#231f20" textLength="140.0" lengthAdjust="spacingAndGlyphs" stroke="#231f20" stroke-width="0.43">Class agreement</text>
<text x="254.8" y="590.7" font-size="14.2" fill="#231f20" textLength="16.2" lengthAdjust="spacingAndGlyphs" stroke="#231f20" stroke-width="0.31">[κ]</text>
<circle cx="175.5" cy="340.7" r="2.75" fill="#40348a"/>
<circle cx="170.5" cy="347.3" r="2.75" fill="#40348a"/>
<circle cx="163.1" cy="353.7" r="2.75" fill="#40348a"/>
<circle cx="153.7" cy="342.9" r="2.75" fill="#34498e"/>
<circle cx="150.4" cy="352.1" r="2.75" fill="#34498e"/>
<circle cx="139.4" cy="355.3" r="2.75" fill="#25818e"/>
<circle cx="157.7" cy="358.2" r="2.75" fill="#2d6896"/>
<circle cx="153.3" cy="357.2" r="2.75" fill="#2f5b98"/>
<circle cx="149.6" cy="358.2" r="2.75" fill="#2f5b98"/>
<circle cx="146.0" cy="358.7" r="2.75" fill="#34498e"/>
<circle cx="143.1" cy="360.1" r="2.75" fill="#34498e"/>
<circle cx="156.2" cy="363.4" r="2.75" fill="#25818e"/>
<circle cx="149.6" cy="364.5" r="2.75" fill="#2f5b98"/>
<circle cx="148.2" cy="366.0" r="2.75" fill="#2f5b98"/>
<circle cx="137.7" cy="363.8" r="2.75" fill="#2d6896"/>
<circle cx="136.5" cy="366.0" r="2.75" fill="#2d6896"/>
<circle cx="138.7" cy="368.2" r="2.75" fill="#25818e"/>
<circle cx="129.9" cy="370.4" r="2.75" fill="#2d6896"/>
<circle cx="132.8" cy="372.6" r="2.75" fill="#2d6896"/>
<circle cx="127.7" cy="375.8" r="2.75" fill="#25818e"/>
<circle cx="139.4" cy="371.8" r="2.75" fill="#25818e"/>
<circle cx="148.9" cy="376.9" r="2.75" fill="#34498e"/>
<circle cx="154.0" cy="376.2" r="2.75" fill="#34498e"/>
<circle cx="164.5" cy="378.0" r="2.75" fill="#40348a"/>
<circle cx="105.6" cy="384.0" r="2.75" fill="#25818e"/>
<circle cx="139.4" cy="379.9" r="2.75" fill="#2d6896"/>
<circle cx="142.3" cy="378.4" r="2.75" fill="#34498e"/>
<circle cx="138.7" cy="381.3" r="2.75" fill="#2d6896"/>
<circle cx="145.3" cy="385.7" r="2.75" fill="#25818e"/>
<circle cx="148.2" cy="386.4" r="2.75" fill="#25818e"/>
<circle cx="156.0" cy="390.3" r="2.75" fill="#2d6896"/>
<circle cx="140.3" cy="390.1" r="2.75" fill="#40348a"/>
<circle cx="140.4" cy="394.8" r="2.75" fill="#40348a"/>
<circle cx="145.1" cy="395.5" r="2.75" fill="#40348a"/>
<circle cx="140.0" cy="397.9" r="2.75" fill="#25818e"/>
<circle cx="155.9" cy="396.8" r="2.75" fill="#2d6896"/>
<circle cx="154.5" cy="400.8" r="2.75" fill="#25818e"/>
<circle cx="148.1" cy="402.6" r="2.75" fill="#2d6896"/>
<circle cx="158.5" cy="408.9" r="2.75" fill="#40348a"/>
<circle cx="131.9" cy="397.9" r="2.75" fill="#2d6896"/>
<circle cx="122.7" cy="401.9" r="2.75" fill="#25818e"/>
<circle cx="152.9" cy="426.6" r="2.75" fill="#40348a"/>
<circle cx="145.4" cy="429.1" r="2.75" fill="#34498e"/>
<circle cx="150.8" cy="435.4" r="2.75" fill="#34498e"/>
<circle cx="145.4" cy="437.8" r="2.75" fill="#34498e"/>
<circle cx="137.3" cy="363.9" r="2.75" fill="#2f5b98"/>
<circle cx="135.6" cy="366.8" r="2.75" fill="#2d6896"/>
<circle cx="140.2" cy="367.7" r="2.75" fill="#2d6896"/>
<circle cx="139.8" cy="371.0" r="2.75" fill="#25818e"/>
<circle cx="139.0" cy="373.6" r="2.75" fill="#25818e"/>
<circle cx="141.0" cy="377.0" r="2.75" fill="#2d6896"/>
<circle cx="143.2" cy="377.8" r="2.75" fill="#34498e"/>
<circle cx="140.2" cy="380.3" r="2.75" fill="#2d6896"/>
<circle cx="139.0" cy="382.0" r="2.75" fill="#2d6896"/>
<circle cx="148.6" cy="386.2" r="2.75" fill="#40348a"/>
<text x="133.6" y="353.8" font-size="7.5" fill="#9d9d9d" text-anchor="middle">48</text>
<text x="134.7" y="361.8" font-size="7.5" fill="#9d9d9d" text-anchor="middle">1</text>
<text x="131.4" y="366.5" font-size="7.5" fill="#9d9d9d" text-anchor="middle">12</text>
<text x="123.4" y="369.1" font-size="7.5" fill="#9d9d9d" text-anchor="middle">46</text>
<text x="120.4" y="376.4" font-size="7.5" fill="#9d9d9d" text-anchor="middle">41</text>
<text x="132.8" y="381.1" font-size="7.5" fill="#9d9d9d" text-anchor="middle">2</text>
<text x="135.8" y="384.0" font-size="7.5" fill="#9d9d9d" text-anchor="middle">6</text>
<text x="99.1" y="391.4" font-size="7.5" fill="#9d9d9d" text-anchor="middle">39</text>
<text x="134.1" y="390.1" font-size="7.5" fill="#9d9d9d" text-anchor="middle">16</text>
<text x="152.5" y="388.7" font-size="7.5" fill="#9d9d9d" text-anchor="middle">5</text>
<text x="163.0" y="389.7" font-size="7.5" fill="#9d9d9d" text-anchor="middle">37</text>
<text x="134.4" y="395.5" font-size="7.5" fill="#9d9d9d" text-anchor="middle">31</text>
<text x="125.2" y="398.6" font-size="7.5" fill="#9d9d9d" text-anchor="middle">42</text>
<text x="149.1" y="399.5" font-size="7.5" fill="#9d9d9d" text-anchor="middle">30</text>
<text x="163.0" y="398.6" font-size="7.5" fill="#9d9d9d" text-anchor="middle">17</text>
<text x="116.2" y="409.3" font-size="7.5" fill="#9d9d9d" text-anchor="middle">47</text>
<text x="137.0" y="405.3" font-size="7.5" fill="#9d9d9d" text-anchor="middle">4</text>
<text x="161.2" y="406.2" font-size="7.5" fill="#9d9d9d" text-anchor="middle">18</text>
<text x="150.5" y="410.9" font-size="7.5" fill="#9d9d9d" text-anchor="middle">19</text>
<text x="162.6" y="416.3" font-size="7.5" fill="#9d9d9d" text-anchor="middle">7</text>
<text x="151.8" y="423.7" font-size="7.5" fill="#9d9d9d" text-anchor="middle">26</text>
<text x="139.1" y="429.5" font-size="7.5" fill="#9d9d9d" text-anchor="middle">32</text>
<text x="155.2" y="443.9" font-size="7.5" fill="#9d9d9d" text-anchor="middle">10</text>
<text x="139.1" y="444.5" font-size="7.5" fill="#9d9d9d" text-anchor="middle">27</text>
<rect x="204.4" y="426.9" width="116.4" height="111.1" fill="#fff" stroke="#d6bd92" stroke-width="1" />
<line x1="202.2" y1="429.0" x2="204.4" y2="429.0" stroke="#333" stroke-width="0.8" />
<text x="200.6" y="431.5" font-size="7.2" fill="#2a2a2a" text-anchor="end" textLength="14.6" lengthAdjust="spacingAndGlyphs" stroke="#2a2a2a" stroke-width="0.15">0.82</text>
<line x1="202.2" y1="443.7" x2="204.4" y2="443.7" stroke="#333" stroke-width="0.8" />
<text x="200.6" y="446.2" font-size="7.2" fill="#2a2a2a" text-anchor="end" textLength="14.6" lengthAdjust="spacingAndGlyphs" stroke="#2a2a2a" stroke-width="0.15">0.80</text>
<line x1="202.2" y1="458.5" x2="204.4" y2="458.5" stroke="#333" stroke-width="0.8" />
<text x="200.6" y="461.0" font-size="7.2" fill="#2a2a2a" text-anchor="end" textLength="14.6" lengthAdjust="spacingAndGlyphs" stroke="#2a2a2a" stroke-width="0.15">0.78</text>
<line x1="202.2" y1="473.2" x2="204.4" y2="473.2" stroke="#333" stroke-width="0.8" />
<text x="200.6" y="475.7" font-size="7.2" fill="#2a2a2a" text-anchor="end" textLength="14.6" lengthAdjust="spacingAndGlyphs" stroke="#2a2a2a" stroke-width="0.15">0.76</text>
<line x1="202.2" y1="487.9" x2="204.4" y2="487.9" stroke="#333" stroke-width="0.8" />
<text x="200.6" y="490.4" font-size="7.2" fill="#2a2a2a" text-anchor="end" textLength="14.6" lengthAdjust="spacingAndGlyphs" stroke="#2a2a2a" stroke-width="0.15">0.74</text>
<line x1="202.2" y1="502.6" x2="204.4" y2="502.6" stroke="#333" stroke-width="0.8" />
<text x="200.6" y="505.1" font-size="7.2" fill="#2a2a2a" text-anchor="end" textLength="14.6" lengthAdjust="spacingAndGlyphs" stroke="#2a2a2a" stroke-width="0.15">0.72</text>
<line x1="202.2" y1="517.4" x2="204.4" y2="517.4" stroke="#333" stroke-width="0.8" />
<text x="200.6" y="519.9" font-size="7.2" fill="#2a2a2a" text-anchor="end" textLength="14.6" lengthAdjust="spacingAndGlyphs" stroke="#2a2a2a" stroke-width="0.15">0.70</text>
<line x1="202.2" y1="532.1" x2="204.4" y2="532.1" stroke="#333" stroke-width="0.8" />
<text x="200.6" y="534.6" font-size="7.2" fill="#2a2a2a" text-anchor="end" textLength="14.6" lengthAdjust="spacingAndGlyphs" stroke="#2a2a2a" stroke-width="0.15">0.68</text>
<line x1="204.4" y1="538.0" x2="204.4" y2="540.0" stroke="#333" stroke-width="0.8" />
<text x="204.4" y="547.6" font-size="7.2" fill="#2a2a2a" text-anchor="middle" textLength="14.6" lengthAdjust="spacingAndGlyphs" stroke="#2a2a2a" stroke-width="0.15">0.32</text>
<line x1="230.5" y1="538.0" x2="230.5" y2="540.0" stroke="#333" stroke-width="0.8" />
<text x="230.5" y="547.6" font-size="7.2" fill="#2a2a2a" text-anchor="middle" textLength="14.6" lengthAdjust="spacingAndGlyphs" stroke="#2a2a2a" stroke-width="0.15">0.35</text>
<line x1="256.8" y1="538.0" x2="256.8" y2="540.0" stroke="#333" stroke-width="0.8" />
<text x="256.8" y="547.6" font-size="7.2" fill="#2a2a2a" text-anchor="middle" textLength="14.6" lengthAdjust="spacingAndGlyphs" stroke="#2a2a2a" stroke-width="0.15">0.37</text>
<line x1="282.9" y1="538.0" x2="282.9" y2="540.0" stroke="#333" stroke-width="0.8" />
<text x="282.9" y="547.6" font-size="7.2" fill="#2a2a2a" text-anchor="middle" textLength="14.6" lengthAdjust="spacingAndGlyphs" stroke="#2a2a2a" stroke-width="0.15">0.40</text>
<line x1="309.3" y1="538.0" x2="309.3" y2="540.0" stroke="#333" stroke-width="0.8" />
<text x="309.3" y="547.6" font-size="7.2" fill="#2a2a2a" text-anchor="middle" textLength="14.6" lengthAdjust="spacingAndGlyphs" stroke="#2a2a2a" stroke-width="0.15">0.42</text>
<defs><clipPath id="clip3"><rect x="204.4" y="426.9" width="116.4" height="111.10000000000002"/></clipPath></defs><g clip-path="url(#clip3)">
<circle cx="238.0" cy="440.9" r="2.75" fill="#34498e"/>
<circle cx="316.5" cy="434.2" r="2.75" fill="#40348a"/>
<circle cx="303.9" cy="453.3" r="2.75" fill="#40348a"/>
<circle cx="223.2" cy="467.2" r="2.75" fill="#34498e"/>
<circle cx="225.9" cy="466.4" r="2.75" fill="#34498e"/>
<circle cx="275.7" cy="471.3" r="2.75" fill="#40348a"/>
<circle cx="236.1" cy="478.8" r="2.75" fill="#34498e"/>
<circle cx="233.4" cy="482.6" r="2.75" fill="#2f5b98"/>
<circle cx="243.4" cy="482.6" r="2.75" fill="#25818e"/>
<circle cx="254.7" cy="483.6" r="2.75" fill="#2d6896"/>
<circle cx="220.5" cy="485.3" r="2.75" fill="#2f5b98"/>
<circle cx="205.2" cy="485.5" r="2.75" fill="#2f5b98"/>
<circle cx="215.9" cy="505.7" r="2.75" fill="#2f5b98"/>
<circle cx="224.6" cy="503.0" r="2.75" fill="#34498e"/>
<circle cx="248.2" cy="498.7" r="2.75" fill="#25818e"/>
<circle cx="219.2" cy="537.7" r="2.75" fill="#2f5b98"/>
<circle cx="238.8" cy="535.0" r="2.75" fill="#2f5b98"/>
<circle cx="282.4" cy="538.5" r="2.75" fill="#2f5b98"/>
</g>
<text x="243.4" y="439.0" font-size="7.5" fill="#231f20" text-anchor="middle" stroke="#231f20" stroke-width="0.22">49</text>
<text x="307.9" y="435.0" font-size="7.7" fill="#c1272d" text-anchor="middle" font-weight="bold">54</text>
<text x="299.9" y="450.6" font-size="7.7" fill="#27a9e1" text-anchor="middle" font-weight="bold">53</text>
<text x="229.9" y="464.0" font-size="7.5" fill="#231f20" text-anchor="middle" stroke="#231f20" stroke-width="0.22">13</text>
<text x="216.5" y="468.6" font-size="7.5" fill="#9d9d9d" text-anchor="middle">11</text>
<text x="282.4" y="469.9" font-size="7.5" fill="#231f20" text-anchor="middle" stroke="#231f20" stroke-width="0.22">34</text>
<text x="237.5" y="475.9" font-size="7.5" fill="#231f20" text-anchor="middle" stroke="#231f20" stroke-width="0.22">33</text>
<text x="235.3" y="491.5" font-size="7.5" fill="#231f20" text-anchor="middle" stroke="#231f20" stroke-width="0.22">52</text>
<text x="246.6" y="491.5" font-size="7.5" fill="#231f20" text-anchor="middle" stroke="#231f20" stroke-width="0.22">25</text>
<text x="261.7" y="482.6" font-size="7.5" fill="#231f20" text-anchor="middle" stroke="#231f20" stroke-width="0.22">24</text>
<text x="218.6" y="482.0" font-size="7.5" fill="#9d9d9d" text-anchor="middle">15</text>
<text x="209.8" y="493.3" font-size="7.5" fill="#9d9d9d" text-anchor="middle">29</text>
<text x="212.4" y="503.0" font-size="7.5" fill="#9d9d9d" text-anchor="middle">50</text>
<text x="230.5" y="501.7" font-size="7.5" fill="#231f20" text-anchor="middle" stroke="#231f20" stroke-width="0.22">45</text>
<text x="253.3" y="507.1" font-size="7.5" fill="#231f20" text-anchor="middle" stroke="#231f20" stroke-width="0.22">23</text>
<text x="215.4" y="534.5" font-size="7.5" fill="#9d9d9d" text-anchor="middle">20</text>
<text x="245.5" y="534.5" font-size="7.5" fill="#231f20" text-anchor="middle" stroke="#231f20" stroke-width="0.22">51</text>
<text x="287.8" y="537.2" font-size="7.5" fill="#9d9d9d" text-anchor="middle">28</text>
<text x="326.9" y="291.0" font-size="19" fill="#000" font-weight="bold">d</text>
<rect x="502.3" y="331.2" width="43.8" height="46.2" fill="#f1eadf" stroke="#d6bd92" stroke-width="1" />
<line x1="502.3" y1="292.6" x2="502.3" y2="550.7" stroke="#333" stroke-width="0.8" stroke-dasharray="1 1.3"/>
<line x1="328.9" y1="377.4" x2="589.0" y2="377.4" stroke="#333" stroke-width="0.8" stroke-dasharray="1 1.3"/>
<line x1="355.1" y1="426.9" x2="502.3" y2="331.2" stroke="#d6bd92" stroke-width="1" />
<line x1="467.1" y1="537.8" x2="546.1" y2="377.4" stroke="#d6bd92" stroke-width="1" />
<rect x="328.9" y="292.6" width="260.1" height="258.1" fill="none" stroke="#5a5a5a" stroke-width="1" />
<line x1="326.4" y1="550.7" x2="328.9" y2="550.7" stroke="#5a5a5a" stroke-width="0.8" />
<line x1="326.4" y1="486.2" x2="328.9" y2="486.2" stroke="#5a5a5a" stroke-width="0.8" />
<line x1="326.4" y1="421.7" x2="328.9" y2="421.7" stroke="#5a5a5a" stroke-width="0.8" />
<line x1="326.4" y1="357.1" x2="328.9" y2="357.1" stroke="#5a5a5a" stroke-width="0.8" />
<line x1="326.4" y1="292.6" x2="328.9" y2="292.6" stroke="#5a5a5a" stroke-width="0.8" />
<line x1="328.9" y1="550.7" x2="328.9" y2="552.9" stroke="#5a5a5a" stroke-width="0.8" />
<text x="326.6" y="565.9" font-size="14.2" fill="#231f20" stroke="#231f20" stroke-width="0.31">0.0</text>
<line x1="393.9" y1="550.7" x2="393.9" y2="552.9" stroke="#5a5a5a" stroke-width="0.8" />
<text x="393.9" y="565.9" font-size="14.2" fill="#231f20" text-anchor="middle" stroke="#231f20" stroke-width="0.31">0.25</text>
<line x1="458.9" y1="550.7" x2="458.9" y2="552.9" stroke="#5a5a5a" stroke-width="0.8" />
<text x="458.9" y="565.9" font-size="14.2" fill="#231f20" text-anchor="middle" stroke="#231f20" stroke-width="0.31">0.5</text>
<line x1="524.0" y1="550.7" x2="524.0" y2="552.9" stroke="#5a5a5a" stroke-width="0.8" />
<text x="524.0" y="565.9" font-size="14.2" fill="#231f20" text-anchor="middle" stroke="#231f20" stroke-width="0.31">0.75</text>
<line x1="589.0" y1="550.7" x2="589.0" y2="552.9" stroke="#5a5a5a" stroke-width="0.8" />
<text x="589.5" y="565.9" font-size="14.2" fill="#231f20" text-anchor="end" stroke="#231f20" stroke-width="0.31">1.0</text>
<text x="437.1" y="308.4" font-size="15" fill="#231f20" font-weight="bold" textLength="130.0" lengthAdjust="spacingAndGlyphs">Whittaker-Ricklefs</text>
<text x="338.8" y="328.5" font-size="13.8" fill="#231f20" stroke="#231f20" stroke-width="0.30">Temperature</text>
<text x="418.5" y="328.8" font-size="9.6" fill="#333" textLength="12.4" lengthAdjust="spacingAndGlyphs" stroke="#333" stroke-width="0.21">[R²]</text>
<defs><linearGradient id="vir342" x1="0" x2="1" y1="0" y2="0"><stop offset="0" stop-color="#f2e51d"/><stop offset="0.12" stop-color="#b5de2b"/><stop offset="0.28" stop-color="#5ec962"/><stop offset="0.45" stop-color="#21a585"/><stop offset="0.6" stop-color="#238a8d"/><stop offset="0.75" stop-color="#2f6b8e"/><stop offset="0.88" stop-color="#3e4a89"/><stop offset="1" stop-color="#3f1f62"/></linearGradient></defs>
<rect x="342.9" y="332.2" width="84.0" height="8.6" fill="url(#vir342)" stroke="#555" stroke-width="0.6" />
<line x1="342.9" y1="340.8" x2="342.9" y2="342.8" stroke="#444" stroke-width="0.7" />
<text x="342.9" y="351.2" font-size="9.6" fill="#231f20" text-anchor="middle" stroke="#231f20" stroke-width="0.21">.90</text>
<line x1="363.9" y1="340.8" x2="363.9" y2="342.8" stroke="#444" stroke-width="0.7" />
<text x="363.6" y="351.2" font-size="9.6" fill="#231f20" text-anchor="middle" stroke="#231f20" stroke-width="0.21">.93</text>
<line x1="384.9" y1="340.8" x2="384.9" y2="342.8" stroke="#444" stroke-width="0.7" />
<text x="384.4" y="351.2" font-size="9.6" fill="#231f20" text-anchor="middle" stroke="#231f20" stroke-width="0.21">.96</text>
<line x1="405.9" y1="340.8" x2="405.9" y2="342.8" stroke="#444" stroke-width="0.7" />
<text x="405.4" y="351.2" font-size="9.6" fill="#231f20" text-anchor="middle" stroke="#231f20" stroke-width="0.21">.98</text>
<line x1="426.9" y1="340.8" x2="426.9" y2="342.8" stroke="#444" stroke-width="0.7" />
<text x="423.8" y="351.2" font-size="9.6" fill="#231f20" text-anchor="middle" stroke="#231f20" stroke-width="0.21">1.0</text>
<text x="585.1" y="498.4" font-size="11.6" fill="#9d9d9d" text-anchor="end" textLength="84.3" lengthAdjust="spacingAndGlyphs" stroke="#9d9d9d" stroke-width="0.26"># Other models</text>
<text x="585.1" y="511.0" font-size="11.6" fill="#231f20" text-anchor="end" textLength="89.6" lengthAdjust="spacingAndGlyphs" stroke="#231f20" stroke-width="0.26"># Top-10 models</text>
<text x="585.1" y="524.2" font-size="9.2" fill="#27a9e1" text-anchor="end" textLength="15.7" lengthAdjust="spacingAndGlyphs" stroke="#27a9e1" stroke-width="0.20">(all)</text>
<text x="567.4" y="524.2" font-size="11.6" fill="#27a9e1" text-anchor="end" textLength="70.0" lengthAdjust="spacingAndGlyphs" stroke="#27a9e1" stroke-width="0.26">53 Ensemble</text>
<text x="585.1" y="537.3" font-size="9.2" fill="#c1272d" text-anchor="end" textLength="36.4" lengthAdjust="spacingAndGlyphs" stroke="#c1272d" stroke-width="0.20">(Top-10)</text>
<text x="546.7" y="537.3" font-size="11.6" fill="#c1272d" text-anchor="end" textLength="70.3" lengthAdjust="spacingAndGlyphs" stroke="#c1272d" stroke-width="0.26">54 Ensemble</text>
<text x="379.0" y="590.7" font-size="19.6" fill="#231f20" textLength="140.0" lengthAdjust="spacingAndGlyphs" stroke="#231f20" stroke-width="0.43">Class agreement</text>
<text x="524.6" y="590.7" font-size="14.2" fill="#231f20" textLength="16.2" lengthAdjust="spacingAndGlyphs" stroke="#231f20" stroke-width="0.31">[κ]</text>
<circle cx="525.3" cy="340.4" r="2.75" fill="#40348a"/>
<circle cx="517.7" cy="342.9" r="2.75" fill="#34498e"/>
<circle cx="521.3" cy="347.3" r="2.75" fill="#40348a"/>
<circle cx="514.3" cy="352.1" r="2.75" fill="#34498e"/>
<circle cx="518.7" cy="353.9" r="2.75" fill="#40348a"/>
<circle cx="506.0" cy="355.5" r="2.75" fill="#25818e"/>
<circle cx="509.6" cy="357.2" r="2.75" fill="#2d6896"/>
<circle cx="511.1" cy="358.7" r="2.75" fill="#2d6896"/>
<circle cx="511.8" cy="360.1" r="2.75" fill="#2f5b98"/>
<circle cx="507.4" cy="359.4" r="2.75" fill="#2d6896"/>
<circle cx="507.7" cy="365.0" r="2.75" fill="#40348a"/>
<circle cx="503.4" cy="364.5" r="2.75" fill="#34498e"/>
<circle cx="497.2" cy="365.3" r="2.75" fill="#2d6896"/>
<circle cx="496.5" cy="368.2" r="2.75" fill="#2d6896"/>
<circle cx="499.4" cy="366.7" r="2.75" fill="#2d6896"/>
<circle cx="495.0" cy="370.4" r="2.75" fill="#2d6896"/>
<circle cx="499.4" cy="371.8" r="2.75" fill="#25818e"/>
<circle cx="501.6" cy="371.1" r="2.75" fill="#2d6896"/>
<circle cx="487.7" cy="375.8" r="2.75" fill="#25818e"/>
<circle cx="506.7" cy="373.3" r="2.75" fill="#2d6896"/>
<circle cx="509.6" cy="376.2" r="2.75" fill="#34498e"/>
<circle cx="512.6" cy="377.7" r="2.75" fill="#34498e"/>
<circle cx="511.1" cy="380.6" r="2.75" fill="#34498e"/>
<circle cx="511.8" cy="382.0" r="2.75" fill="#34498e"/>
<circle cx="498.0" cy="376.2" r="2.75" fill="#34498e"/>
<circle cx="502.3" cy="376.9" r="2.75" fill="#34498e"/>
<circle cx="490.3" cy="381.6" r="2.75" fill="#2d6896"/>
<circle cx="486.6" cy="384.3" r="2.75" fill="#25818e"/>
<circle cx="499.5" cy="386.0" r="2.75" fill="#25818e"/>
<circle cx="502.3" cy="386.4" r="2.75" fill="#25818e"/>
<circle cx="503.1" cy="379.9" r="2.75" fill="#2d6896"/>
<circle cx="505.2" cy="390.3" r="2.75" fill="#40348a"/>
<circle cx="503.8" cy="390.8" r="2.75" fill="#34498e"/>
<circle cx="495.0" cy="395.5" r="2.75" fill="#40348a"/>
<circle cx="497.0" cy="395.9" r="2.75" fill="#40348a"/>
<circle cx="488.0" cy="398.1" r="2.75" fill="#2d6896"/>
<circle cx="504.4" cy="397.1" r="2.75" fill="#2d6896"/>
<circle cx="497.0" cy="400.2" r="2.75" fill="#25818e"/>
<circle cx="497.7" cy="402.8" r="2.75" fill="#2d6896"/>
<circle cx="472.4" cy="402.2" r="2.75" fill="#25818e"/>
<circle cx="507.5" cy="408.9" r="2.75" fill="#40348a"/>
<circle cx="485.6" cy="427.0" r="2.75" fill="#34498e"/>
<circle cx="485.6" cy="429.1" r="2.75" fill="#2d6896"/>
<circle cx="492.3" cy="437.8" r="2.75" fill="#34498e"/>
<circle cx="498.4" cy="435.5" r="2.75" fill="#34498e"/>
<text x="495.8" y="361.4" font-size="7.5" fill="#9d9d9d" text-anchor="middle">36</text>
<text x="489.9" y="366.5" font-size="7.5" fill="#9d9d9d" text-anchor="middle">35</text>
<text x="487.7" y="373.1" font-size="7.5" fill="#9d9d9d" text-anchor="middle">46</text>
<text x="481.2" y="376.4" font-size="7.5" fill="#9d9d9d" text-anchor="middle">41</text>
<text x="479.6" y="387.0" font-size="7.5" fill="#9d9d9d" text-anchor="middle">39</text>
<text x="489.9" y="389.9" font-size="7.5" fill="#9d9d9d" text-anchor="middle">6</text>
<text x="494.3" y="388.4" font-size="7.5" fill="#9d9d9d" text-anchor="middle">8</text>
<text x="515.9" y="387.0" font-size="7.5" fill="#9d9d9d" text-anchor="middle">3</text>
<text x="511.2" y="393.2" font-size="7.5" fill="#9d9d9d" text-anchor="middle">37</text>
<text x="489.0" y="395.5" font-size="7.5" fill="#9d9d9d" text-anchor="middle">31</text>
<text x="511.8" y="400.4" font-size="7.5" fill="#9d9d9d" text-anchor="middle">17</text>
<text x="468.5" y="399.9" font-size="7.5" fill="#9d9d9d" text-anchor="middle">47</text>
<text x="485.6" y="406.9" font-size="7.5" fill="#9d9d9d" text-anchor="middle">42</text>
<text x="505.1" y="405.8" font-size="7.5" fill="#9d9d9d" text-anchor="middle">18</text>
<text x="495.7" y="411.2" font-size="7.5" fill="#9d9d9d" text-anchor="middle">19</text>
<text x="508.1" y="418.3" font-size="7.5" fill="#9d9d9d" text-anchor="middle">7</text>
<text x="483.6" y="424.4" font-size="7.5" fill="#9d9d9d" text-anchor="middle">26</text>
<text x="478.9" y="434.4" font-size="7.5" fill="#9d9d9d" text-anchor="middle">32</text>
<text x="486.6" y="445.9" font-size="7.5" fill="#9d9d9d" text-anchor="middle">27</text>
<text x="501.7" y="444.5" font-size="7.5" fill="#9d9d9d" text-anchor="middle">10</text>
<rect x="355.1" y="426.9" width="112.0" height="110.9" fill="#fff" stroke="#d6bd92" stroke-width="1" />
<line x1="352.9" y1="430.9" x2="355.1" y2="430.9" stroke="#333" stroke-width="0.8" />
<text x="351.4" y="433.4" font-size="7.2" fill="#2a2a2a" text-anchor="end" textLength="14.6" lengthAdjust="spacingAndGlyphs" stroke="#2a2a2a" stroke-width="0.15">0.82</text>
<line x1="352.9" y1="445.4" x2="355.1" y2="445.4" stroke="#333" stroke-width="0.8" />
<text x="351.4" y="447.9" font-size="7.2" fill="#2a2a2a" text-anchor="end" textLength="14.6" lengthAdjust="spacingAndGlyphs" stroke="#2a2a2a" stroke-width="0.15">0.80</text>
<line x1="352.9" y1="459.9" x2="355.1" y2="459.9" stroke="#333" stroke-width="0.8" />
<text x="351.4" y="462.4" font-size="7.2" fill="#2a2a2a" text-anchor="end" textLength="14.6" lengthAdjust="spacingAndGlyphs" stroke="#2a2a2a" stroke-width="0.15">0.78</text>
<line x1="352.9" y1="474.4" x2="355.1" y2="474.4" stroke="#333" stroke-width="0.8" />
<text x="351.4" y="476.9" font-size="7.2" fill="#2a2a2a" text-anchor="end" textLength="14.6" lengthAdjust="spacingAndGlyphs" stroke="#2a2a2a" stroke-width="0.15">0.76</text>
<line x1="352.9" y1="488.9" x2="355.1" y2="488.9" stroke="#333" stroke-width="0.8" />
<text x="351.4" y="491.4" font-size="7.2" fill="#2a2a2a" text-anchor="end" textLength="14.6" lengthAdjust="spacingAndGlyphs" stroke="#2a2a2a" stroke-width="0.15">0.74</text>
<line x1="352.9" y1="503.4" x2="355.1" y2="503.4" stroke="#333" stroke-width="0.8" />
<text x="351.4" y="505.9" font-size="7.2" fill="#2a2a2a" text-anchor="end" textLength="14.6" lengthAdjust="spacingAndGlyphs" stroke="#2a2a2a" stroke-width="0.15">0.72</text>
<line x1="352.9" y1="517.9" x2="355.1" y2="517.9" stroke="#333" stroke-width="0.8" />
<text x="351.4" y="520.4" font-size="7.2" fill="#2a2a2a" text-anchor="end" textLength="14.6" lengthAdjust="spacingAndGlyphs" stroke="#2a2a2a" stroke-width="0.15">0.70</text>
<line x1="352.9" y1="532.4" x2="355.1" y2="532.4" stroke="#333" stroke-width="0.8" />
<text x="351.4" y="534.9" font-size="7.2" fill="#2a2a2a" text-anchor="end" textLength="14.6" lengthAdjust="spacingAndGlyphs" stroke="#2a2a2a" stroke-width="0.15">0.68</text>
<line x1="371.6" y1="537.8" x2="371.6" y2="539.8" stroke="#333" stroke-width="0.8" />
<text x="371.6" y="547.8" font-size="7.2" fill="#2a2a2a" text-anchor="middle" textLength="14.6" lengthAdjust="spacingAndGlyphs" stroke="#2a2a2a" stroke-width="0.15">0.68</text>
<line x1="394.4" y1="537.8" x2="394.4" y2="539.8" stroke="#333" stroke-width="0.8" />
<text x="394.4" y="547.8" font-size="7.2" fill="#2a2a2a" text-anchor="middle" textLength="14.6" lengthAdjust="spacingAndGlyphs" stroke="#2a2a2a" stroke-width="0.15">0.70</text>
<line x1="417.8" y1="537.8" x2="417.8" y2="539.8" stroke="#333" stroke-width="0.8" />
<text x="417.8" y="547.8" font-size="7.2" fill="#2a2a2a" text-anchor="middle" textLength="14.6" lengthAdjust="spacingAndGlyphs" stroke="#2a2a2a" stroke-width="0.15">0.72</text>
<line x1="440.7" y1="537.8" x2="440.7" y2="539.8" stroke="#333" stroke-width="0.8" />
<text x="440.7" y="547.8" font-size="7.2" fill="#2a2a2a" text-anchor="middle" textLength="14.6" lengthAdjust="spacingAndGlyphs" stroke="#2a2a2a" stroke-width="0.15">0.74</text>
<line x1="464.1" y1="537.8" x2="464.1" y2="539.8" stroke="#333" stroke-width="0.8" />
<text x="464.1" y="547.8" font-size="7.2" fill="#2a2a2a" text-anchor="middle" textLength="14.6" lengthAdjust="spacingAndGlyphs" stroke="#2a2a2a" stroke-width="0.15">0.76</text>
<defs><clipPath id="clip4"><rect x="355.1" y="426.9" width="112.0" height="110.89999999999998"/></clipPath></defs><g clip-path="url(#clip4)">
<circle cx="421.9" cy="442.2" r="2.75" fill="#34498e"/>
<circle cx="455.5" cy="434.2" r="2.75" fill="#40348a"/>
<circle cx="438.6" cy="454.4" r="2.75" fill="#40348a"/>
<circle cx="406.5" cy="467.3" r="2.75" fill="#34498e"/>
<circle cx="410.6" cy="468.1" r="2.75" fill="#34498e"/>
<circle cx="427.8" cy="472.1" r="2.75" fill="#40348a"/>
<circle cx="371.3" cy="477.0" r="2.75" fill="#25818e"/>
<circle cx="390.9" cy="479.9" r="2.75" fill="#34498e"/>
<circle cx="393.6" cy="484.0" r="2.75" fill="#25818e"/>
<circle cx="390.4" cy="482.9" r="2.75" fill="#2d6896"/>
<circle cx="378.8" cy="484.8" r="2.75" fill="#2d6896"/>
<circle cx="378.8" cy="486.7" r="2.75" fill="#2f5b98"/>
<circle cx="385.5" cy="486.1" r="2.75" fill="#34498e"/>
<circle cx="394.4" cy="491.0" r="2.75" fill="#34498e"/>
<circle cx="359.4" cy="501.5" r="2.75" fill="#2f5b98"/>
<circle cx="376.1" cy="499.6" r="2.75" fill="#25818e"/>
<circle cx="380.2" cy="503.6" r="2.75" fill="#40348a"/>
<circle cx="356.5" cy="506.3" r="2.75" fill="#2f5b98"/>
<circle cx="373.4" cy="525.9" r="2.75" fill="#2f5b98"/>
<circle cx="382.3" cy="535.1" r="2.75" fill="#2f5b98"/>
<circle cx="390.0" cy="537.5" r="2.75" fill="#2f5b98"/>
</g>
<text x="427.8" y="440.4" font-size="7.5" fill="#231f20" text-anchor="middle" stroke="#231f20" stroke-width="0.22">49</text>
<text x="459.6" y="444.4" font-size="7.7" fill="#c1272d" text-anchor="middle" font-weight="bold">54</text>
<text x="446.1" y="459.8" font-size="7.7" fill="#27a9e1" text-anchor="middle" font-weight="bold">53</text>
<text x="406.5" y="465.1" font-size="7.5" fill="#231f20" text-anchor="middle" stroke="#231f20" stroke-width="0.22">13</text>
<text x="417.3" y="474.8" font-size="7.5" fill="#231f20" text-anchor="middle" stroke="#231f20" stroke-width="0.22">11</text>
<text x="432.6" y="481.3" font-size="7.5" fill="#231f20" text-anchor="middle" stroke="#231f20" stroke-width="0.22">34</text>
<text x="364.0" y="476.2" font-size="7.5" fill="#9d9d9d" text-anchor="middle">48</text>
<text x="391.2" y="476.4" font-size="7.5" fill="#231f20" text-anchor="middle" stroke="#231f20" stroke-width="0.22">33</text>
<text x="384.7" y="482.6" font-size="7.5" fill="#231f20" text-anchor="middle" stroke="#231f20" stroke-width="0.22">52</text>
<text x="399.5" y="482.6" font-size="7.5" fill="#231f20" text-anchor="middle" stroke="#231f20" stroke-width="0.22">25</text>
<text x="372.9" y="485.3" font-size="7.5" fill="#9d9d9d" text-anchor="middle">24</text>
<text x="386.9" y="494.7" font-size="7.5" fill="#231f20" text-anchor="middle" stroke="#231f20" stroke-width="0.22">29</text>
<text x="400.9" y="498.2" font-size="7.5" fill="#231f20" text-anchor="middle" stroke="#231f20" stroke-width="0.22">38</text>
<text x="375.3" y="494.2" font-size="7.5" fill="#9d9d9d" text-anchor="middle">15</text>
<text x="359.4" y="498.2" font-size="7.5" fill="#9d9d9d" text-anchor="middle">1</text>
<text x="370.7" y="506.3" font-size="7.5" fill="#9d9d9d" text-anchor="middle">23</text>
<text x="384.7" y="511.1" font-size="7.5" fill="#9d9d9d" text-anchor="middle">45</text>
<text x="360.5" y="515.7" font-size="7.5" fill="#9d9d9d" text-anchor="middle">50</text>
<text x="368.9" y="526.5" font-size="7.5" fill="#9d9d9d" text-anchor="middle">2</text>
<text x="384.2" y="533.2" font-size="7.5" fill="#231f20" text-anchor="middle" stroke="#231f20" stroke-width="0.22">51</text>
<text x="392.3" y="537.3" font-size="7.5" fill="#9d9d9d" text-anchor="middle">28</text>
<text x="403.6" y="537.8" font-size="7.5" fill="#9d9d9d" text-anchor="middle">43</text>
<text x="599.1" y="20.8" font-size="14.8" fill="#231f20" textLength="47.4" lengthAdjust="spacingAndGlyphs" stroke="#231f20" stroke-width="0.33">Models</text>
<g transform="translate(598.5,0) scale(0.9,1)">
<text x="0" y="34.70" font-size="8.2" fill="#231f20" stroke="#231f20" stroke-width="0.18">1. ACCESS-CM2</text>
<text x="0" y="45.08" font-size="8.2" fill="#231f20" stroke="#231f20" stroke-width="0.18">2. ACCESS-ESM1-5</text>
<text x="0" y="55.46" font-size="8.2" fill="#231f20" stroke="#231f20" stroke-width="0.18">3. AWI-CM-1-1-MR</text>
<text x="0" y="65.84" font-size="8.2" fill="#231f20" stroke="#231f20" stroke-width="0.18">4. AWI-ESM-1-1-LR</text>
<text x="0" y="76.22" font-size="8.2" fill="#231f20" stroke="#231f20" stroke-width="0.18">5. BCC-CSM2-MR</text>
<text x="0" y="86.60" font-size="8.2" fill="#231f20" stroke="#231f20" stroke-width="0.18">6. BCC-ESM1</text>
<text x="0" y="96.98" font-size="8.2" fill="#231f20" stroke="#231f20" stroke-width="0.18">7. CAMS-CSM1-0</text>
<text x="0" y="107.36" font-size="8.2" fill="#231f20" stroke="#231f20" stroke-width="0.18">8. CanESM5</text>
<text x="0" y="117.74" font-size="8.2" fill="#231f20" stroke="#231f20" stroke-width="0.18">9. CanESM5-CanOE</text>
<text x="0" y="128.12" font-size="8.2" fill="#231f20" stroke="#231f20" stroke-width="0.18">10. CAS-ESM2-0</text>
<text x="0" y="138.50" font-size="8.2" fill="#231f20" stroke="#231f20" stroke-width="0.18">11. CESM2</text>
<text x="0" y="148.88" font-size="8.2" fill="#231f20" stroke="#231f20" stroke-width="0.18">12. CESM2-FV2</text>
<text x="0" y="159.26" font-size="8.2" fill="#231f20" stroke="#231f20" stroke-width="0.18">13. CESM2-WACCM</text>
<text x="0" y="169.64" font-size="8.2" fill="#231f20" stroke="#231f20" stroke-width="0.18">14. CESM2-WACCM-FV2</text>
<text x="0" y="180.02" font-size="8.2" fill="#231f20" stroke="#231f20" stroke-width="0.18">15. CIESM</text>
<text x="0" y="190.40" font-size="8.2" fill="#231f20" stroke="#231f20" stroke-width="0.18">16. CMCC-CM2-SR5</text>
<text x="0" y="200.78" font-size="8.2" fill="#231f20" stroke="#231f20" stroke-width="0.18">17. CNRM-CM6-1</text>
<text x="0" y="211.16" font-size="8.2" fill="#231f20" stroke="#231f20" stroke-width="0.18">18. CNRM-CM6-1-HR</text>
<text x="0" y="221.54" font-size="8.2" fill="#231f20" stroke="#231f20" stroke-width="0.18">19. CNRM-ESM2-1</text>
<text x="0" y="231.92" font-size="8.2" fill="#231f20" stroke="#231f20" stroke-width="0.18">20. E3SM-1-0</text>
<text x="0" y="242.30" font-size="8.2" fill="#231f20" stroke="#231f20" stroke-width="0.18">21. E3SM-1-1</text>
<text x="0" y="252.68" font-size="8.2" fill="#231f20" stroke="#231f20" stroke-width="0.18">22. E3SM-1-1-ECA</text>
<text x="0" y="263.06" font-size="8.2" fill="#231f20" stroke="#231f20" stroke-width="0.18">23. EC-Earth3</text>
<text x="0" y="273.44" font-size="8.2" fill="#231f20" stroke="#231f20" stroke-width="0.18">24. EC-Earth3-Veg</text>
<text x="0" y="283.82" font-size="8.2" fill="#231f20" stroke="#231f20" stroke-width="0.18">25. EC-Earth3-Veg-LR</text>
<text x="0" y="294.20" font-size="8.2" fill="#231f20" stroke="#231f20" stroke-width="0.18">26. FGOALS-f3-L</text>
<text x="0" y="304.58" font-size="8.2" fill="#231f20" stroke="#231f20" stroke-width="0.18">27. FGOALS-g3</text>
<text x="0" y="314.96" font-size="8.2" fill="#231f20" stroke="#231f20" stroke-width="0.18">28. FIO-ESM-2-0</text>
<text x="0" y="325.34" font-size="8.2" fill="#231f20" stroke="#231f20" stroke-width="0.18">29. GFDL-ESM4</text>
<text x="0" y="335.72" font-size="8.2" fill="#231f20" stroke="#231f20" stroke-width="0.18">30. GISS-E2-1-G</text>
<text x="0" y="346.10" font-size="8.2" fill="#231f20" stroke="#231f20" stroke-width="0.18">31. GISS-E2-1-G-CC</text>
<text x="0" y="356.48" font-size="8.2" fill="#231f20" stroke="#231f20" stroke-width="0.18">32. GISS-E2-1-H</text>
<text x="0" y="366.86" font-size="8.2" fill="#231f20" stroke="#231f20" stroke-width="0.18">33. HadGEM3-GC31-LL</text>
<text x="0" y="377.24" font-size="8.2" fill="#231f20" stroke="#231f20" stroke-width="0.18">34. HadGEM3-GC31-MM</text>
<text x="0" y="387.62" font-size="8.2" fill="#231f20" stroke="#231f20" stroke-width="0.18">35. INM-CM4-8</text>
<text x="0" y="398.00" font-size="8.2" fill="#231f20" stroke="#231f20" stroke-width="0.18">36. INM-CM5-0</text>
<text x="0" y="408.38" font-size="8.2" fill="#231f20" stroke="#231f20" stroke-width="0.18">37. IPSL-CM6A-LR</text>
<text x="0" y="418.76" font-size="8.2" fill="#231f20" stroke="#231f20" stroke-width="0.18">38. KACE-1-0-G</text>
<text x="0" y="429.14" font-size="8.2" fill="#231f20" stroke="#231f20" stroke-width="0.18">39. MCM-UA-1-0</text>
<text x="0" y="439.52" font-size="8.2" fill="#231f20" stroke="#231f20" stroke-width="0.18">40. MIROC6</text>
<text x="0" y="449.90" font-size="8.2" fill="#231f20" stroke="#231f20" stroke-width="0.18">41. MIROC-ES2L</text>
<text x="0" y="460.28" font-size="8.2" fill="#231f20" stroke="#231f20" stroke-width="0.18">42. MPI-ESM-1-2-HAM</text>
<text x="0" y="470.66" font-size="8.2" fill="#231f20" stroke="#231f20" stroke-width="0.18">43. MPI-ESM1-2-HR</text>
<text x="0" y="481.04" font-size="8.2" fill="#231f20" stroke="#231f20" stroke-width="0.18">44. MPI-ESM1-2-LR</text>
<text x="0" y="491.42" font-size="8.2" fill="#231f20" stroke="#231f20" stroke-width="0.18">45. MRI-ESM2-0</text>
<text x="0" y="501.80" font-size="8.2" fill="#231f20" stroke="#231f20" stroke-width="0.18">46. NESM3</text>
<text x="0" y="512.18" font-size="8.2" fill="#231f20" stroke="#231f20" stroke-width="0.18">47. NorCPM1</text>
<text x="0" y="522.56" font-size="8.2" fill="#231f20" stroke="#231f20" stroke-width="0.18">48. NorESM2-LM</text>
<text x="0" y="532.94" font-size="8.2" fill="#231f20" stroke="#231f20" stroke-width="0.18">49. NorESM2-MM</text>
<text x="0" y="543.32" font-size="8.2" fill="#231f20" stroke="#231f20" stroke-width="0.18">50. SAM0-UNICON</text>
<text x="0" y="553.70" font-size="8.2" fill="#231f20" stroke="#231f20" stroke-width="0.18">51. TaiESM1</text>
<text x="0" y="564.08" font-size="8.2" fill="#231f20" stroke="#231f20" stroke-width="0.18">52. UKESM1-0-LL</text>
<text x="0" y="574.46" font-size="8.2" fill="#231f20" stroke="#231f20" stroke-width="0.18">53. ENSEMBLE (all)</text>
<text x="0" y="584.84" font-size="8.2" fill="#231f20" stroke="#231f20" stroke-width="0.18">54. ENSEMBLE (Top-10)</text>
</g></svg></body></html>
